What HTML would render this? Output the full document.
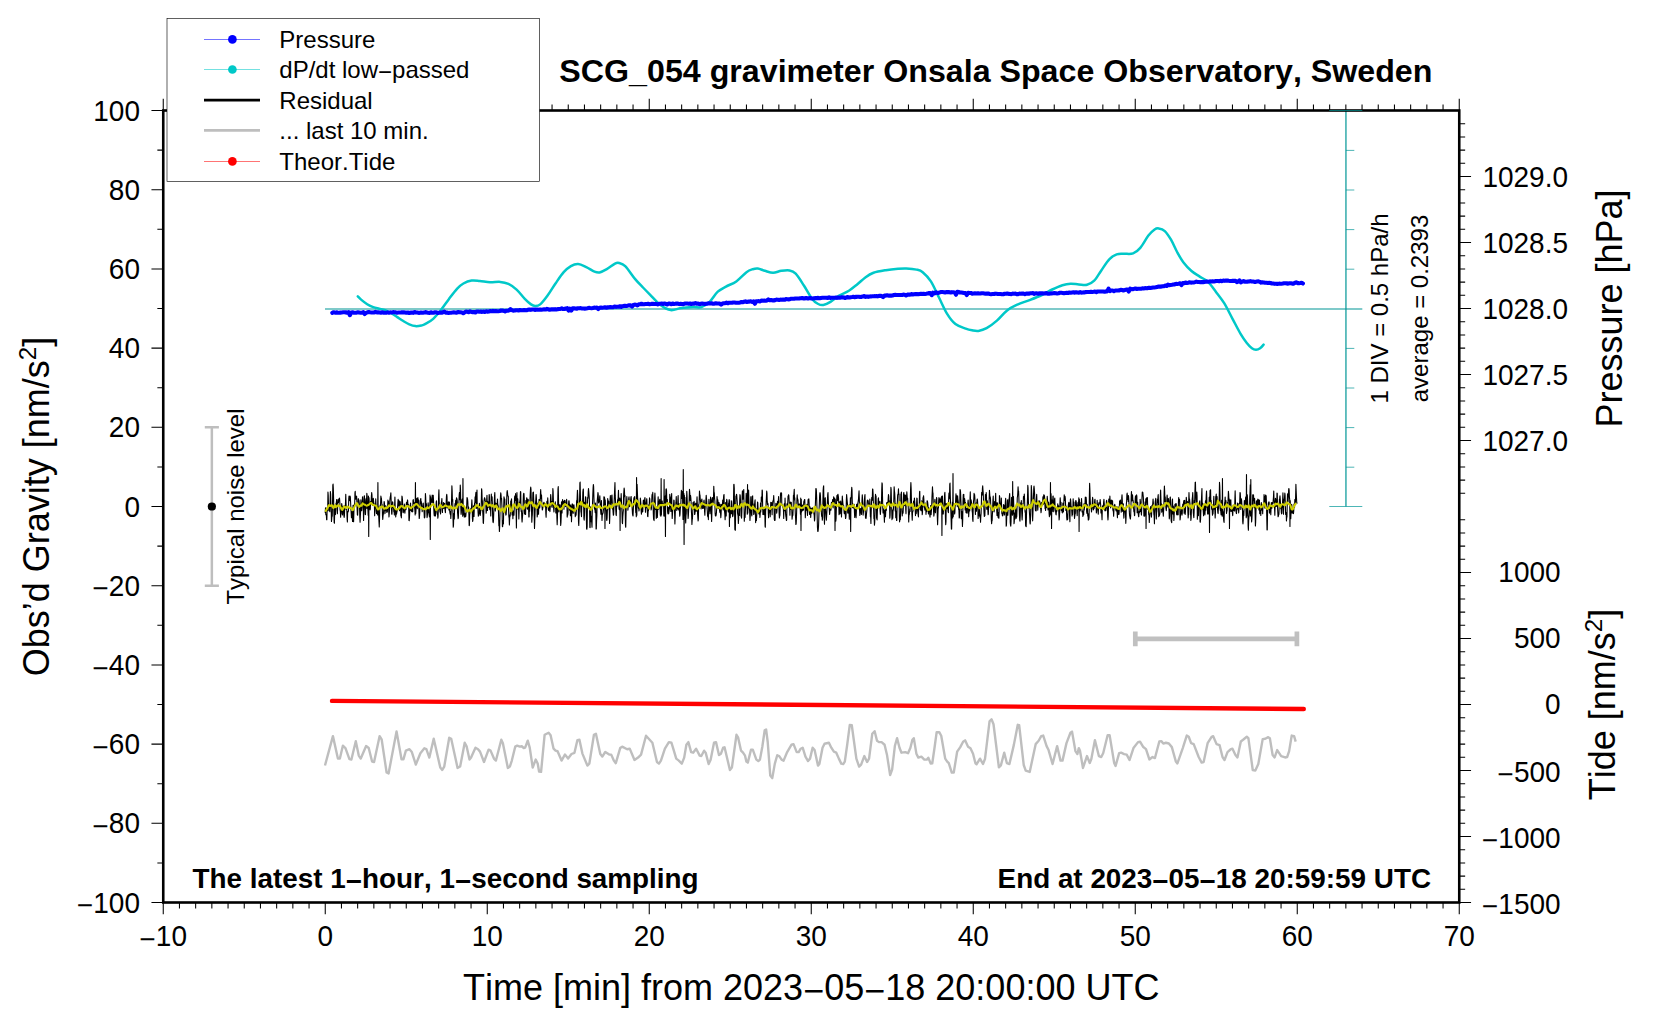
<!DOCTYPE html>
<html lang="en"><head><meta charset="utf-8"><title>SCG_054 gravimeter Onsala Space Observatory, Sweden</title>
<style>
html,body{margin:0;padding:0;background:#fff}
body{width:1660px;height:1020px;overflow:hidden}
svg{display:block}
text{font-family:"Liberation Sans",Arial,Helvetica,sans-serif;fill:#000;font-kerning:none;font-variant-ligatures:none}
.an{font-size:28px}
.lb{font-size:36px}
.lg{font-size:24px}
.bd{font-size:27.85px;font-weight:bold}
.ti{font-size:32.2px;font-weight:bold}
</style></head><body>
<svg width="1660" height="1020" viewBox="0 0 1660 1020">
<rect width="1660" height="1020" fill="#fff"/>
<g fill="none" stroke-linejoin="round">
<polyline stroke="#000" stroke-width="1.1" points="325.25,512.96 325.52,507.86 325.79,514.54 326.06,515.11 326.33,514.6 326.6,519.62 326.87,519.63 327.14,507.63 327.41,507.59 327.68,510.7 327.95,492.05 328.22,494.97 328.49,505.86 328.76,505 329.03,510.65 329.3,510.22 329.57,507.75 329.84,511.75 330.11,501.05 330.38,491.57 330.65,494 330.92,503.74 331.19,508.99 331.46,521.57 331.73,518.89 332,514.44 332.27,516.34 332.54,503.62 332.81,485.18 333.08,484.09 333.35,488.9 333.62,498.94 333.89,513.7 334.16,522.8 334.43,523.2 334.7,512.2 334.97,508.22 335.24,514.02 335.51,514.6 335.78,505.72 336.05,503.09 336.32,503.35 336.59,499.66 336.86,504.84 337.13,509.93 337.4,513.69 337.67,506.75 337.94,499.62 338.21,502.84 338.48,502.74 338.75,499.61 339.02,498.84 339.29,498.1 339.56,498.61 339.83,502.4 340.1,509.98 340.37,511.71 340.64,517.25 340.91,512.89 341.18,514.17 341.45,508.14 341.72,503.66 341.99,505.73 342.26,507.97 342.53,514.95 342.8,511.64 343.07,506.35 343.34,510.61 343.61,508.9 343.88,515.56 344.15,517.46 344.42,515.74 344.69,508.54 344.96,505.19 345.23,509.04 345.5,502.55 345.77,494.38 346.04,503.24 346.31,509.16 346.58,506.8 346.85,510.95 347.12,518.89 347.39,521.96 347.66,511.64 347.93,512.13 348.2,511.81 348.47,510.46 348.74,498.72 349.01,495.98 349.28,496.95 349.55,500.79 349.82,498.85 350.09,496.09 350.36,497.07 350.63,502.98 350.9,508.35 351.17,513.03 351.44,517.63 351.71,517.75 351.98,511.51 352.25,514.71 352.52,521.43 352.79,512.28 353.06,505.27 353.33,513.64 353.6,521.7 353.87,512.85 354.14,504.69 354.41,505.91 354.68,504.5 354.95,492.89 355.22,491.38 355.49,499.27 355.76,498.78 356.03,499.03 356.3,497.77 356.57,496.08 356.84,500.93 357.11,508.52 357.38,514.84 357.65,515.12 357.92,507.46 358.19,498.68 358.46,498.75 358.73,499.84 359,500.53 359.27,502.71 359.54,506.28 359.81,517.3 360.08,522.3 360.35,516.35 360.62,511.19 360.89,499.68 361.16,502.94 361.43,507.67 361.7,510.61 361.97,504.44 362.24,502.98 362.51,496.89 362.78,499.37 363.05,506.97 363.32,509.98 363.59,520.43 363.86,510.77 364.13,496.73 364.4,495.75 364.67,500.23 364.94,505.29 365.21,514.3 365.48,514.64 365.75,504.06 366.02,498.83 366.29,508.5 366.56,499.3 366.83,493.3 367.1,495.39 367.37,505.94 367.64,508.77 367.91,509.38 368.18,515.3 368.45,496 368.72,536.5 368.99,497.5 369.26,502.22 369.53,502.87 369.8,505.02 370.07,509.84 370.34,509.09 370.61,501.51 370.88,503.4 371.15,502.51 371.42,495.8 371.69,492.59 371.96,494.76 372.23,501.07 372.5,505.34 372.77,504.96 373.04,502.69 373.31,498.23 373.58,501.02 373.85,502.71 374.12,503.99 374.39,505.12 374.66,515.8 374.93,508.78 375.2,505.42 375.47,507.92 375.74,498.74 376.01,504.71 376.28,511.24 376.55,513.64 376.82,506.61 377.09,506.72 377.36,508.31 377.63,514.9 377.9,482.5 378.17,513.7 378.44,506.86 378.71,516.19 378.98,521.37 379.25,526.91 379.52,519.3 379.79,508.56 380.06,505.47 380.33,505.89 380.6,502.86 380.87,496.13 381.14,497.75 381.41,498.17 381.68,502.22 381.95,506.33 382.22,504.52 382.49,515.64 382.76,519.44 383.03,515.92 383.3,514.36 383.57,512.07 383.84,507.87 384.11,501.46 384.38,502.64 384.65,506.31 384.92,513.75 385.19,511.32 385.46,505.87 385.73,509.43 386,506.04 386.27,510.56 386.54,510.44 386.81,512.41 387.08,510.94 387.35,511.9 387.62,506.6 387.89,500.14 388.16,503.12 388.43,501.29 388.7,510.76 388.97,516.87 389.24,514.06 389.51,510.2 389.78,501.25 390.05,498.51 390.32,496.56 390.59,495.31 390.86,492.84 391.13,499.66 391.4,506.71 391.67,513.73 391.94,514.34 392.21,508.3 392.48,501.92 392.75,501.95 393.02,507.52 393.29,505.84 393.56,507.96 393.83,511.72 394.1,510.7 394.37,514.86 394.64,504.99 394.91,497.06 395.18,506.59 395.45,511.09 395.72,517.07 395.99,514.23 396.26,510.42 396.53,514.22 396.8,512.39 397.07,511.45 397.34,510.14 397.61,506.7 397.88,502.58 398.15,499.38 398.42,502.12 398.69,505.96 398.96,500.63 399.23,502.36 399.5,510.67 399.77,505.19 400.04,501.45 400.31,502.86 400.58,508.5 400.85,515.5 401.12,516.22 401.39,517.86 401.66,507.57 401.93,496.09 402.2,497 402.47,499.83 402.74,506.78 403.01,512.18 403.28,512.78 403.55,509.66 403.82,510.94 404.09,508.23 404.36,503.93 404.63,511.75 404.9,513.14 405.17,509.18 405.44,506.41 405.71,507.31 405.98,509.68 406.25,504.38 406.52,502.21 406.79,502.43 407.06,505.46 407.33,501.21 407.6,499.93 407.87,503.6 408.14,504.64 408.41,504.51 408.68,505.47 408.95,520.44 409.22,520.77 409.49,517.07 409.76,511.03 410.03,508.43 410.3,504.95 410.57,502.96 410.84,510.23 411.11,510.45 411.38,509.68 411.65,511.79 411.92,507.15 412.19,506.25 412.46,511.38 412.73,511.86 413,500.23 413.27,499.61 413.54,501.8 413.81,503.55 414.08,503.66 414.35,502.7 414.62,507.25 414.89,510.27 415.16,514.9 415.43,482.5 415.7,513.7 415.97,510.35 416.24,502.54 416.51,499.59 416.78,498.34 417.05,506.53 417.32,508.77 417.59,502.59 417.86,497.63 418.13,499.83 418.4,500.54 418.67,500.18 418.94,511.71 419.21,518.56 419.48,516.81 419.75,512.67 420.02,506.57 420.29,501.13 420.56,499.26 420.83,498.48 421.1,503.69 421.37,501.66 421.64,507.7 421.91,507.41 422.18,511.68 422.45,508.9 422.72,506.47 422.99,503.54 423.26,503.16 423.53,507.5 423.8,509.7 424.07,512.09 424.34,517.63 424.61,517.86 424.88,516.62 425.15,505.37 425.42,493.49 425.69,497.01 425.96,505.57 426.23,506.47 426.5,503.84 426.77,511.4 427.04,517.59 427.31,516.05 427.58,513.72 427.85,509.76 428.12,502.79 428.39,505.22 428.66,512.62 428.93,512.94 429.2,515.31 429.47,516.93 429.74,512.27 430.01,494.95 430.28,539.5 430.55,496.6 430.82,498.83 431.09,503.03 431.36,502.24 431.63,502.05 431.9,500.52 432.17,495.01 432.44,499.82 432.71,502.58 432.98,498.58 433.25,495.25 433.52,500.19 433.79,508.93 434.06,513.94 434.33,515.97 434.6,514.03 434.87,508.49 435.14,508.48 435.41,516.07 435.68,511.45 435.95,509.11 436.22,502.02 436.49,500.84 436.76,508.26 437.03,512.31 437.3,514.44 437.57,513.36 437.84,518.3 438.11,515.84 438.38,507.73 438.65,495.02 438.92,489.85 439.19,500.23 439.46,508.96 439.73,509.27 440,511.94 440.27,511.16 440.54,513.93 440.81,510.51 441.08,505.32 441.35,502.18 441.62,501.5 441.89,498.62 442.16,505.48 442.43,512.45 442.7,506.18 442.97,508.22 443.24,508.43 443.51,502.64 443.78,507.91 444.05,508.14 444.32,507.5 444.59,503.2 444.86,507.88 445.13,510.79 445.4,512.65 445.67,505.74 445.94,507.96 446.21,501.39 446.48,496.13 446.75,494.23 447.02,496.91 447.29,507.97 447.56,507.2 447.83,506.43 448.1,504.52 448.37,501.86 448.64,505.84 448.91,509.98 449.18,505.79 449.45,502.01 449.72,511.29 449.99,513.13 450.26,514.34 450.53,511.56 450.8,518.54 451.07,514.09 451.34,507.32 451.61,498.22 451.88,485.88 452.15,490.35 452.42,501.26 452.69,499.4 452.96,515.55 453.23,527.21 453.5,525.37 453.77,515.41 454.04,513.41 454.31,519.05 454.58,509.28 454.85,505.29 455.12,503.28 455.39,504.8 455.66,500.42 455.93,502.24 456.2,506.38 456.47,497.74 456.74,498.76 457.01,498.81 457.28,501.32 457.55,512.4 457.82,515.48 458.09,518.67 458.36,517.77 458.63,510.5 458.9,503.88 459.17,495.36 459.44,492.59 459.71,499.59 459.98,499.62 460.25,484.99 460.52,489.49 460.79,506.09 461.06,514.33 461.33,512.61 461.6,506.69 461.87,500.61 462.14,499.1 462.41,501.9 462.68,516.3 462.95,478.5 463.22,514.9 463.49,507.34 463.76,506.89 464.03,508.42 464.3,517.11 464.57,514.02 464.84,513.37 465.11,516.47 465.38,514.91 465.65,516.85 465.92,514.85 466.19,510.75 466.46,508.57 466.73,505.45 467,497.58 467.27,498.08 467.54,498.91 467.81,501.81 468.08,509.01 468.35,511.25 468.62,507.15 468.89,514.29 469.16,525.59 469.43,525.23 469.7,514.61 469.97,513.17 470.24,511.23 470.51,510.74 470.78,508.79 471.05,508.26 471.32,510.92 471.59,505.22 471.86,499.73 472.13,504.99 472.4,518.06 472.67,521.4 472.94,519.91 473.21,512.87 473.48,505.82 473.75,509.17 474.02,516.48 474.29,508.86 474.56,503.11 474.83,503.05 475.1,496.79 475.37,502.44 475.64,495.14 475.91,492.4 476.18,508.44 476.45,508.34 476.72,496.95 476.99,490.08 477.26,507.98 477.53,505.89 477.8,505.73 478.07,512.28 478.34,516.1 478.61,514.24 478.88,513.36 479.15,512.25 479.42,503.25 479.69,511.81 479.96,514.72 480.23,515.55 480.5,513.25 480.77,510.37 481.04,510.52 481.31,501.97 481.58,488.69 481.85,490.48 482.12,499.07 482.39,501.41 482.66,510.71 482.93,515.1 483.2,522.97 483.47,523.33 483.74,514.79 484.01,501.33 484.28,498.99 484.55,497.67 484.82,498.5 485.09,499.63 485.36,500.91 485.63,501.95 485.9,507.16 486.17,513.27 486.44,510.78 486.71,499.16 486.98,495.37 487.25,503.11 487.52,510.53 487.79,501.54 488.06,503.45 488.33,507.09 488.6,507.24 488.87,504.32 489.14,494.46 489.41,495.89 489.68,509.03 489.95,509.77 490.22,505.45 490.49,506.37 490.76,516.02 491.03,502.05 491.3,494.09 491.57,500.34 491.84,500.34 492.11,496.91 492.38,504.38 492.65,517.07 492.92,521.61 493.19,522.73 493.46,520.81 493.73,512.86 494,508.84 494.27,503.4 494.54,496.05 494.81,492.54 495.08,502.31 495.35,511.06 495.62,503.01 495.89,503.96 496.16,503.43 496.43,507.41 496.7,506.3 496.97,505.99 497.24,503.02 497.51,499.01 497.78,504.72 498.05,504.88 498.32,506.87 498.59,516.15 498.86,525.63 499.13,523.56 499.4,531.51 499.67,526.86 499.94,515.06 500.21,503.95 500.48,496.14 500.75,492.9 501.02,494.56 501.29,498.87 501.56,498.18 501.83,504.33 502.1,509.68 502.37,526.36 502.64,526.7 502.91,521.85 503.18,520.58 503.45,523.83 503.72,506.7 503.99,496.75 504.26,498.23 504.53,502.46 504.8,498.98 505.07,507.08 505.34,507.96 505.61,512.72 505.88,515.1 506.15,514.49 506.42,509.45 506.69,499.52 506.96,492.31 507.23,490.55 507.5,492.51 507.77,495.47 508.04,496.44 508.31,496.38 508.58,509.82 508.85,516.49 509.12,518.28 509.39,524.93 509.66,518.68 509.93,514.72 510.2,516.22 510.47,509.89 510.74,500.94 511.01,502.27 511.28,500.66 511.55,498.89 511.82,509.25 512.09,515 512.36,510.2 512.63,510.68 512.9,518.75 513.17,511.06 513.44,511.78 513.71,514.73 513.98,515.27 514.25,508.19 514.52,498.35 514.79,495.93 515.06,496.78 515.33,500.37 515.6,493.56 515.87,496.83 516.14,513.56 516.41,527.87 516.68,510.14 516.95,492.43 517.22,504.19 517.49,509.03 517.76,498.75 518.03,506.56 518.3,506.2 518.57,508.55 518.84,518.98 519.11,511.01 519.38,502.1 519.65,504.66 519.92,501.01 520.19,499.09 520.46,491.56 520.73,491.87 521,509.05 521.27,511.63 521.54,510.76 521.81,518.48 522.08,522.08 522.35,518.38 522.62,515.04 522.89,511.71 523.16,502.07 523.43,494.86 523.7,493.3 523.97,493.62 524.24,498.28 524.51,514.06 524.78,513.3 525.05,509.34 525.32,510.87 525.59,514.42 525.86,500.58 526.13,506.57 526.4,503.84 526.67,497.76 526.94,498.11 527.21,508.31 527.48,509.12 527.75,502.76 528.02,499.35 528.29,499.77 528.56,508.1 528.83,516.95 529.1,516.87 529.37,505.15 529.64,511.16 529.91,501.89 530.18,494.95 530.45,489.69 530.72,487.06 530.99,489.3 531.26,500.49 531.53,509.97 531.8,522.17 532.07,517.28 532.34,514.59 532.61,504.75 532.88,492.89 533.15,492.18 533.42,492.16 533.69,499.55 533.96,504.71 534.23,516.54 534.5,528.44 534.77,521.81 535.04,512.95 535.31,506.37 535.58,502.88 535.85,499.23 536.12,494.55 536.39,497.9 536.66,503.76 536.93,506.12 537.2,516.9 537.47,514.11 537.74,508.25 538.01,503.03 538.28,510.26 538.55,514.32 538.82,505.5 539.09,499.24 539.36,505.92 539.63,508.05 539.9,506.61 540.17,502.23 540.44,493.5 540.71,489.65 540.98,495.72 541.25,498.35 541.52,494.97 541.79,501.77 542.06,507.18 542.33,510 542.6,509.51 542.87,507.19 543.14,506.69 543.41,504.01 543.68,502.96 543.95,502.26 544.22,505.17 544.49,504.84 544.76,503.32 545.03,504.4 545.3,504.1 545.57,503.97 545.84,513.79 546.11,517.3 546.38,508.76 546.65,505.55 546.92,501.18 547.19,504.93 547.46,506.05 547.73,497.9 548,502.33 548.27,509.18 548.54,510.36 548.81,507.94 549.08,510.32 549.35,506.73 549.62,504.84 549.89,511.59 550.16,508.52 550.43,500.48 550.7,494.64 550.97,498.35 551.24,503.5 551.51,501.24 551.78,506.59 552.05,507.41 552.32,505.5 552.59,503.13 552.86,488.45 553.13,491.61 553.4,501.17 553.67,508.97 553.94,511.86 554.21,506.01 554.48,503.76 554.75,507.45 555.02,505.86 555.29,501.75 555.56,506.34 555.83,512.87 556.1,505.75 556.37,505.19 556.64,508.28 556.91,518.29 557.18,524.62 557.45,517.82 557.72,503.24 557.99,489 558.26,486.65 558.53,500.2 558.8,511.84 559.07,509.15 559.34,504.8 559.61,505.29 559.88,505.75 560.15,504.91 560.42,516.65 560.69,525.38 560.96,522.79 561.23,515.8 561.5,501.87 561.77,508.07 562.04,512.88 562.31,503.29 562.58,499.64 562.85,504.31 563.12,504.53 563.39,501.28 563.66,504.66 563.93,509.31 564.2,503.77 564.47,500.21 564.74,501.46 565.01,500.44 565.28,502.4 565.55,506.58 565.82,505.9 566.09,503.68 566.36,505.15 566.63,499.18 566.9,502.62 567.17,517.09 567.44,515.11 567.71,515.15 567.98,513.52 568.25,508.36 568.52,505.32 568.79,500.97 569.06,500.75 569.33,503.95 569.6,510.22 569.87,507.54 570.14,504.77 570.41,515.79 570.68,505.36 570.95,507.12 571.22,508.9 571.49,521.72 571.76,513.9 572.03,504.31 572.3,503.95 572.57,504.08 572.84,511.48 573.11,513.48 573.38,511.68 573.65,505.95 573.92,504.71 574.19,507.85 574.46,510 574.73,510.62 575,512.13 575.27,516.66 575.54,514.45 575.81,514.04 576.08,515.24 576.35,510.27 576.62,500.45 576.89,503.09 577.16,497.03 577.43,490.22 577.7,495.02 577.97,502.15 578.24,506.91 578.51,522.53 578.78,525.55 579.05,517.71 579.32,510.04 579.59,499.49 579.86,482.87 580.13,482.07 580.4,495.19 580.67,503.4 580.94,511.71 581.21,513.23 581.48,516.58 581.75,506.04 582.02,506.8 582.29,504.07 582.56,504.32 582.83,492.25 583.1,489.78 583.37,489.01 583.64,503.58 583.91,518.36 584.18,520.27 584.45,515.35 584.72,502.24 584.99,505.81 585.26,504.78 585.53,496.81 585.8,497.52 586.07,503.5 586.34,516.33 586.61,529.07 586.88,529.2 587.15,526.64 587.42,504.46 587.69,497.25 587.96,498.57 588.23,491.81 588.5,488.52 588.77,491.22 589.04,494.97 589.31,498.29 589.58,509.6 589.85,527.56 590.12,527.65 590.39,506.75 590.66,508.21 590.93,521.72 591.2,516.01 591.47,517.47 591.74,522.95 592.01,527.2 592.28,510.79 592.55,503.08 592.82,494.48 593.09,487.92 593.36,484.44 593.63,486.59 593.9,496.79 594.17,504.58 594.44,508.89 594.71,505.73 594.98,509.96 595.25,512.63 595.52,503.05 595.79,510.03 596.06,529.04 596.33,528.98 596.6,520.12 596.87,515.69 597.14,502.13 597.41,498.81 597.68,495.86 597.95,492.51 598.22,494.36 598.49,502.85 598.76,502.52 599.03,501.84 599.3,499.76 599.57,498.42 599.84,495.68 600.11,501.6 600.38,508.57 600.65,510.39 600.92,514.18 601.19,506.05 601.46,500.49 601.73,512.55 602,520.51 602.27,515.19 602.54,514.31 602.81,513.29 603.08,513.13 603.35,510.42 603.62,508.07 603.89,496.85 604.16,499.05 604.43,497.06 604.7,498.8 604.97,528.5 605.24,499.9 605.51,505.79 605.78,510 606.05,509.72 606.32,510.16 606.59,519.31 606.86,520.53 607.13,517.6 607.4,509.93 607.67,498.54 607.94,500.67 608.21,503.32 608.48,501.11 608.75,501.24 609.02,509.32 609.29,510.6 609.56,523.39 609.83,516.45 610.1,499.22 610.37,495.62 610.64,502.86 610.91,505.43 611.18,501.87 611.45,502.83 611.72,495.51 611.99,495.04 612.26,501.42 612.53,508.86 612.8,507.16 613.07,512.05 613.34,515.23 613.61,514.68 613.88,509.4 614.15,501.53 614.42,495.26 614.69,488.43 614.96,482.5 615.23,495.65 615.5,500.97 615.77,510.02 616.04,514.69 616.31,515.59 616.58,506.45 616.85,505.71 617.12,506.1 617.39,503.51 617.66,499.6 617.93,502.18 618.2,496.82 618.47,490.24 618.74,500.38 619.01,508.43 619.28,509.75 619.55,504.97 619.82,498.1 620.09,530.5 620.36,499.3 620.63,505.98 620.9,503.05 621.17,493.66 621.44,500.49 621.71,506.37 621.98,512.18 622.25,522.7 622.52,523.73 622.79,517.04 623.06,513.37 623.33,510.14 623.6,495.93 623.87,491.27 624.14,488.02 624.41,490.18 624.68,496.8 624.95,495.39 625.22,509.37 625.49,525.77 625.76,527.31 626.03,514.38 626.3,505.09 626.57,501.78 626.84,496.58 627.11,501.4 627.38,501.78 627.65,504.14 627.92,510.27 628.19,507.02 628.46,503 628.73,498.69 629,496.8 629.27,500.38 629.54,506.81 629.81,502.93 630.08,500.85 630.35,503.14 630.62,500.33 630.89,497.22 631.16,496.46 631.43,500.84 631.7,502.49 631.97,505.45 632.24,509.54 632.51,513.96 632.78,515.27 633.05,516 633.32,509.74 633.59,501.84 633.86,498.35 634.13,497.42 634.4,498.17 634.67,496.57 634.94,502.87 635.21,503.16 635.48,506.6 635.75,512.6 636.02,510.87 636.29,516.65 636.56,477.5 636.83,515.2 637.1,484.2 637.37,491.56 637.64,498 637.91,500.3 638.18,507.07 638.45,508.28 638.72,507.67 638.99,510.93 639.26,508.64 639.53,506.41 639.8,506.67 640.07,508.28 640.34,498.12 640.61,500.17 640.88,503.48 641.15,511.03 641.42,514.11 641.69,510.36 641.96,508.9 642.23,507.06 642.5,511.91 642.77,511.82 643.04,504.69 643.31,500.37 643.58,500.07 643.85,503.16 644.12,504.6 644.39,506.09 644.66,498.91 644.93,497.51 645.2,502.89 645.47,512.3 645.74,506.9 646.01,507.89 646.28,503.79 646.55,500.25 646.82,498.67 647.09,505.68 647.36,511.45 647.63,516.42 647.9,516.62 648.17,510.59 648.44,510.6 648.71,504.88 648.98,505.91 649.25,504.91 649.52,497.82 649.79,499.15 650.06,507.8 650.33,507.73 650.6,505.62 650.87,505.1 651.14,509.92 651.41,508.75 651.68,502.8 651.95,495.8 652.22,494.14 652.49,496.77 652.76,492.42 653.03,500.38 653.3,513.12 653.57,519.33 653.84,519.05 654.11,520.61 654.38,507.91 654.65,497.79 654.92,493.13 655.19,498.76 655.46,509.41 655.73,507.09 656,507.28 656.27,518.33 656.54,515.6 656.81,507.43 657.08,510.04 657.35,517.35 657.62,512.09 657.89,503.27 658.16,496.69 658.43,505.58 658.7,509.18 658.97,504.23 659.24,502.1 659.51,500.47 659.78,499.31 660.05,507.98 660.32,515.22 660.59,511.12 660.86,516.3 661.13,478.5 661.4,514.9 661.67,506.64 661.94,501.51 662.21,501.03 662.48,505.79 662.75,503.75 663.02,504.4 663.29,504.74 663.56,503.78 663.83,515.95 664.1,479.5 664.37,514.6 664.64,516.19 664.91,515.43 665.18,496 665.45,536.5 665.72,497.5 665.99,489.07 666.26,488.84 666.53,490.43 666.8,501.37 667.07,502.23 667.34,499.45 667.61,511.91 667.88,513.46 668.15,513.98 668.42,507.4 668.69,513.68 668.96,511.62 669.23,509.6 669.5,508.15 669.77,494.22 670.04,496.94 670.31,496.75 670.58,506.51 670.85,511.57 671.12,505.91 671.39,499.53 671.66,493.56 671.93,509.97 672.2,518.45 672.47,514.48 672.74,507.66 673.01,505.73 673.28,508.43 673.55,505.39 673.82,500.09 674.09,500.53 674.36,508.48 674.63,514.16 674.9,523.96 675.17,517.18 675.44,507.44 675.71,505.3 675.98,502.16 676.25,496.54 676.52,504.52 676.79,510.57 677.06,506.45 677.33,506.63 677.6,509.05 677.87,499.48 678.14,495.57 678.41,505.41 678.68,510.05 678.95,506.42 679.22,503.82 679.49,512 679.76,516.12 680.03,514.24 680.3,508.92 680.57,506.86 680.84,504.42 681.11,495 681.38,490.39 681.65,498.33 681.92,496.68 682.19,494.51 682.46,491.48 682.73,507.17 683,519.45 683.27,469.5 683.54,517.6 683.81,493.2 684.08,544.5 684.35,495.1 684.62,502.54 684.89,497.33 685.16,508.4 685.43,518.02 685.7,522.89 685.97,516.06 686.24,513.49 686.51,500.9 686.78,491.31 687.05,495.93 687.32,503.51 687.59,504.07 687.86,511.9 688.13,518.53 688.4,515.29 688.67,509.53 688.94,506.86 689.21,498.18 689.48,489.2 689.75,492.64 690.02,496.46 690.29,500.35 690.56,495.6 690.83,497.91 691.1,501.72 691.37,510.61 691.64,515.23 691.91,524.54 692.18,520.07 692.45,518.46 692.72,513.2 692.99,502.51 693.26,509.59 693.53,507.39 693.8,504.29 694.07,501.36 694.34,503.63 694.61,514.43 694.88,514.31 695.15,511.46 695.42,504.66 695.69,503.18 695.96,508.52 696.23,511.19 696.5,510.51 696.77,502.15 697.04,496.74 697.31,504.51 697.58,513.94 697.85,518.28 698.12,520.96 698.39,519.05 698.66,504.52 698.93,504.2 699.2,501.52 699.47,491.01 699.74,494.55 700.01,495.26 700.28,499.62 700.55,500.77 700.82,506.34 701.09,508.89 701.36,504.55 701.63,500.19 701.9,499.1 702.17,503.7 702.44,507.92 702.71,508.49 702.98,506.6 703.25,508.41 703.52,506.59 703.79,501.47 704.06,500.06 704.33,503.34 704.6,511.94 704.87,515.31 705.14,507.94 705.41,505.24 705.68,504.65 705.95,499.13 706.22,495.24 706.49,498.58 706.76,501.39 707.03,508.4 707.3,510.79 707.57,515.75 707.84,516.92 708.11,512.82 708.38,519.6 708.65,508.19 708.92,499.37 709.19,503.18 709.46,510.91 709.73,508.5 710,513.81 710.27,508.31 710.54,497.13 710.81,498.29 711.08,500.5 711.35,513.72 711.62,521.36 711.89,513.13 712.16,500.41 712.43,497.54 712.7,497.96 712.97,502.42 713.24,503.28 713.51,497.68 713.78,486.33 714.05,492.38 714.32,492.66 714.59,498.6 714.86,501.05 715.13,513.31 715.4,515.84 715.67,513.5 715.94,516 716.21,514.74 716.48,511.83 716.75,507.49 717.02,496.6 717.29,499.15 717.56,508.02 717.83,499.77 718.1,504.15 718.37,508.24 718.64,507.47 718.91,502.34 719.18,503.25 719.45,509.2 719.72,511.36 719.99,512.73 720.26,504.42 720.53,513.22 720.8,517.77 721.07,514.6 721.34,507.85 721.61,504.25 721.88,507.65 722.15,507.99 722.42,506.09 722.69,499.94 722.96,504.86 723.23,509.96 723.5,497.81 723.77,495.17 724.04,494.61 724.31,506.86 724.58,511.81 724.85,514.12 725.12,519.66 725.39,513.62 725.66,502.57 725.93,506.44 726.2,515.89 726.47,502.21 726.74,499.34 727.01,500.69 727.28,505.07 727.55,506.57 727.82,508.01 728.09,510.63 728.36,512.03 728.63,503.03 728.9,502.38 729.17,499.5 729.44,526.5 729.71,500.5 729.98,512.78 730.25,517.69 730.52,510.58 730.79,507.31 731.06,511.56 731.33,513.78 731.6,500.9 731.87,504.57 732.14,510.02 732.41,514.52 732.68,516.61 732.95,515.73 733.22,514.21 733.49,502.6 733.76,484.45 734.03,484.36 734.3,488.64 734.57,511.43 734.84,529.26 735.11,530.2 735.38,530.2 735.65,508.28 735.92,496.13 736.19,496.41 736.46,494.23 736.73,494.76 737,498.79 737.27,502.24 737.54,513.01 737.81,514.54 738.08,515.85 738.35,523.54 738.62,519.37 738.89,507.86 739.16,508.44 739.43,515.5 739.7,499.82 739.97,494.52 740.24,495.6 740.51,501.04 740.78,505.73 741.05,516.09 741.32,516.78 741.59,518.27 741.86,511.64 742.13,496.79 742.4,490.91 742.67,497.17 742.94,499.29 743.21,494.23 743.48,492.43 743.75,489.63 744.02,503.05 744.29,521.17 744.56,516.53 744.83,516.05 745.1,517.39 745.37,510.32 745.64,506.23 745.91,502.49 746.18,493.37 746.45,496.68 746.72,500.95 746.99,502.18 747.26,514.2 747.53,484.5 747.8,513.1 748.07,500.05 748.34,491.61 748.61,490.13 748.88,499.11 749.15,508.25 749.42,509.06 749.69,512.56 749.96,520.52 750.23,516.48 750.5,510.34 750.77,497.39 751.04,496.47 751.31,509.25 751.58,514.71 751.85,515.93 752.12,506.65 752.39,497.31 752.66,495.74 752.93,506.95 753.2,503.88 753.47,508.65 753.74,514.48 754.01,513.83 754.28,511.39 754.55,504.72 754.82,501.94 755.09,499.74 755.36,511.4 755.63,522.6 755.9,519.62 756.17,515.15 756.44,520.35 756.71,515.38 756.98,508.21 757.25,510.23 757.52,501.94 757.79,502.52 758.06,508.3 758.33,509.4 758.6,512.07 758.87,513.84 759.14,513.52 759.41,511.76 759.68,513.28 759.95,517.43 760.22,513.87 760.49,503.05 760.76,512.05 761.03,508.27 761.3,497.1 761.57,497.27 761.84,501.21 762.11,489.93 762.38,490.97 762.65,506.56 762.92,514.41 763.19,508.5 763.46,510.04 763.73,512.61 764,514.65 764.27,513.06 764.54,508.09 764.81,509.83 765.08,526.32 765.35,527.27 765.62,511 765.89,508.94 766.16,501.78 766.43,496.98 766.7,490.97 766.97,493.15 767.24,501.42 767.51,504.56 767.78,503.16 768.05,504.07 768.32,513.25 768.59,517.74 768.86,510.63 769.13,508.74 769.4,511.23 769.67,512.79 769.94,509.76 770.21,516.76 770.48,510.47 770.75,502.25 771.02,508.94 771.29,505.13 771.56,502.58 771.83,507.43 772.1,514.82 772.37,505.13 772.64,502.75 772.91,500.87 773.18,500.5 773.45,499.57 773.72,495.5 773.99,501.23 774.26,518.97 774.53,520.37 774.8,518.99 775.07,520.36 775.34,506.64 775.61,507.24 775.88,503.33 776.15,503.64 776.42,508.48 776.69,513.21 776.96,510.83 777.23,505.62 777.5,501.4 777.77,503.62 778.04,504.67 778.31,501.53 778.58,496.54 778.85,503.32 779.12,513.46 779.39,518.07 779.66,516.13 779.93,515.04 780.2,507.24 780.47,494.41 780.74,492.76 781.01,495.32 781.28,493.31 781.55,492.88 781.82,505.14 782.09,504.71 782.36,505.68 782.63,506.09 782.9,507.1 783.17,508 783.44,509.76 783.71,518.36 783.98,508.46 784.25,503.92 784.52,510.61 784.79,507.86 785.06,498.17 785.33,508.48 785.6,513.9 785.87,516.32 786.14,517.58 786.41,520.56 786.68,520.06 786.95,503.92 787.22,508 787.49,506.56 787.76,502.67 788.03,496.07 788.3,495.74 788.57,494.74 788.84,495.51 789.11,500.02 789.38,504.92 789.65,507.6 789.92,515.18 790.19,506.14 790.46,501.99 790.73,505.74 791,509.5 791.27,502.25 791.54,507.06 791.81,510.3 792.08,519.12 792.35,516.43 792.62,515.76 792.89,515.29 793.16,507.82 793.43,495.28 793.7,496.39 793.97,492.79 794.24,489.28 794.51,500 794.78,497.79 795.05,506.01 795.32,513.59 795.59,518.02 795.86,524.38 796.13,524.3 796.4,519.21 796.67,510.23 796.94,499.12 797.21,494.92 797.48,499.44 797.75,499.05 798.02,500.45 798.29,504.81 798.56,506.24 798.83,507.6 799.1,503.93 799.37,505.04 799.64,504.68 799.91,504.08 800.18,507 800.45,514.27 800.72,498.1 800.99,530.5 801.26,499.3 801.53,512.09 801.8,510.02 802.07,509.52 802.34,505.02 802.61,505.98 802.88,510.74 803.15,509.2 803.42,510.07 803.69,503.26 803.96,500.91 804.23,502.23 804.5,499.45 804.77,499.54 805.04,507.43 805.31,517.67 805.58,512.08 805.85,506.96 806.12,505.91 806.39,510.26 806.66,505.29 806.93,504.39 807.2,508.11 807.47,515.38 807.74,511.5 808.01,500.59 808.28,499.19 808.55,501.53 808.82,498.76 809.09,502.71 809.36,510.5 809.63,514.4 809.9,506.79 810.17,507.6 810.44,510.74 810.71,517.38 810.98,513.18 811.25,508.18 811.52,509.85 811.79,513.12 812.06,512.77 812.33,507.83 812.6,508.16 812.87,508.7 813.14,509.07 813.41,511.01 813.68,512.24 813.95,513.82 814.22,515.33 814.49,521 814.76,519.23 815.03,511.68 815.3,506.65 815.57,498.7 815.84,488.76 816.11,488.55 816.38,490.66 816.65,497.47 816.92,506.82 817.19,517.52 817.46,527.42 817.73,531.26 818,531.47 818.27,529.62 818.54,525.96 818.81,518.49 819.08,509.29 819.35,503.7 819.62,495.95 819.89,492.85 820.16,492.75 820.43,495.65 820.7,502.92 820.97,509.04 821.24,509.99 821.51,514.91 821.78,516.59 822.05,515.89 822.32,520.14 822.59,517.57 822.86,502.71 823.13,490.49 823.4,487.04 823.67,485.74 823.94,507.19 824.21,517.65 824.48,524.12 824.75,514.78 825.02,498.12 825.29,497.76 825.56,509.22 825.83,512.28 826.1,516.55 826.37,520.32 826.64,516.01 826.91,511.27 827.18,505.49 827.45,499.96 827.72,494.51 827.99,492.54 828.26,500.11 828.53,505 828.8,505.43 829.07,505.52 829.34,510.14 829.61,514.42 829.88,511.38 830.15,507.01 830.42,509.63 830.69,506.91 830.96,510.25 831.23,504.39 831.5,502.36 831.77,505.33 832.04,506.29 832.31,504.24 832.58,499.67 832.85,506 833.12,507.98 833.39,501.45 833.66,496.84 833.93,499.73 834.2,501.58 834.47,500.77 834.74,498.1 835.01,530.5 835.28,499.3 835.55,511.88 835.82,521.22 836.09,518.32 836.36,508.32 836.63,501.28 836.9,495.45 837.17,498.78 837.44,500.73 837.71,494.84 837.98,494.24 838.25,495.87 838.52,497.89 838.79,504.68 839.06,514.63 839.33,512.16 839.6,501.79 839.87,506.87 840.14,513.75 840.41,506.75 840.68,500.99 840.95,503.53 841.22,509.93 841.49,516.99 841.76,509.37 842.03,502.77 842.3,496.16 842.57,499.86 842.84,502.83 843.11,505.22 843.38,505.22 843.65,505.38 843.92,509.49 844.19,513.25 844.46,513.62 844.73,509.39 845,510.88 845.27,514.1 845.54,518.53 845.81,517.73 846.08,514.73 846.35,500.1 846.62,494.67 846.89,497.81 847.16,500.98 847.43,503.65 847.7,512.9 847.97,513.14 848.24,506.35 848.51,510.84 848.78,510.19 849.05,513.26 849.32,519.24 849.59,512.95 849.86,504.41 850.13,506.54 850.4,497.75 850.67,531.5 850.94,499 851.21,497.64 851.48,491.23 851.75,487.3 852.02,489.81 852.29,502.22 852.56,507.6 852.83,503.77 853.1,506.23 853.37,507.19 853.64,508.07 853.91,506.76 854.18,504.35 854.45,512.32 854.72,517.45 854.99,513.38 855.26,509.24 855.53,509.62 855.8,512.11 856.07,517.75 856.34,512.38 856.61,504.18 856.88,507.23 857.15,508.61 857.42,503.87 857.69,506.02 857.96,502.49 858.23,501.09 858.5,499 858.77,494.5 859.04,490.68 859.31,497.99 859.58,510.65 859.85,515.52 860.12,513.85 860.39,511.62 860.66,508.44 860.93,508.81 861.2,510.29 861.47,514.35 861.74,507.84 862.01,499.92 862.28,494.7 862.55,498.97 862.82,507.52 863.09,515.08 863.36,513.02 863.63,511.12 863.9,509.05 864.17,504.37 864.44,500.02 864.71,496.29 864.98,494.58 865.25,510.37 865.52,517.91 865.79,514.76 866.06,518.42 866.33,515.73 866.6,512.56 866.87,510.47 867.14,502.37 867.41,500.06 867.68,501.49 867.95,500.37 868.22,501.03 868.49,505.45 868.76,503.9 869.03,504.49 869.3,506.43 869.57,505.55 869.84,499.02 870.11,507.26 870.38,516.65 870.65,516.63 870.92,523.43 871.19,513.3 871.46,502.95 871.73,497.62 872,500.55 872.27,500.06 872.54,489.11 872.81,489.07 873.08,493.33 873.35,502.15 873.62,508.14 873.89,518.45 874.16,518.13 874.43,525.2 874.7,522.81 874.97,514.29 875.24,497.92 875.51,494.24 875.78,498.44 876.05,495.79 876.32,505.23 876.59,518.01 876.86,518.76 877.13,519.86 877.4,511.16 877.67,506.34 877.94,506.15 878.21,498.81 878.48,497.87 878.75,505.02 879.02,503.39 879.29,505.89 879.56,505.95 879.83,501.33 880.1,511.13 880.37,514.42 880.64,511.01 880.91,504.87 881.18,502.88 881.45,504.24 881.72,490.29 881.99,482.87 882.26,483.83 882.53,497.59 882.8,508.67 883.07,513.01 883.34,508.87 883.61,509.29 883.88,510.8 884.15,516.31 884.42,522.29 884.69,514.22 884.96,509.92 885.23,512.82 885.5,516.63 885.77,510.64 886.04,508.92 886.31,510.51 886.58,502.74 886.85,502.72 887.12,502.73 887.39,502.32 887.66,505.27 887.93,503.99 888.2,498.45 888.47,494.55 888.74,496.12 889.01,502.41 889.28,500.63 889.55,504.18 889.82,518.27 890.09,515.19 890.36,507.33 890.63,499.23 890.9,487.36 891.17,489.57 891.44,500.65 891.71,509.33 891.98,519.71 892.25,517.45 892.52,510.05 892.79,518.3 893.06,510.67 893.33,510.09 893.6,506.76 893.87,497.84 894.14,486.73 894.41,490.84 894.68,492.73 894.95,498.12 895.22,510.93 895.49,503.48 895.76,517.64 896.03,517.36 896.3,511.39 896.57,520.5 896.84,520.37 897.11,504.3 897.38,501.67 897.65,495.35 897.92,494.24 898.19,494.01 898.46,488.72 898.73,494.41 899,494.01 899.27,511.8 899.54,521.83 899.81,520.29 900.08,516.2 900.35,519.36 900.62,510.29 900.89,493.91 901.16,493.42 901.43,492.12 901.7,499.56 901.97,511.47 902.24,515.86 902.51,511.62 902.78,510.98 903.05,513.11 903.32,507.8 903.59,493.61 903.86,492.45 904.13,499.69 904.4,505.66 904.67,503.17 904.94,494.9 905.21,501.2 905.48,495.25 905.75,509.97 906.02,513.65 906.29,496.23 906.56,496.85 906.83,491.72 907.1,495.57 907.37,499.72 907.64,498 907.91,503.89 908.18,505.44 908.45,513.01 908.72,521.87 908.99,514.34 909.26,514.78 909.53,511.93 909.8,508.75 910.07,511.45 910.34,498.73 910.61,488.16 910.88,482.54 911.15,488 911.42,499.39 911.69,509.82 911.96,514.8 912.23,520.32 912.5,512.84 912.77,511.5 913.04,510.92 913.31,505.72 913.58,501.05 913.85,503.61 914.12,507.51 914.39,497.93 914.66,501.06 914.93,504.38 915.2,510.06 915.47,515.59 915.74,512.15 916.01,513.69 916.28,513.59 916.55,505.25 916.82,498.17 917.09,498.46 917.36,504.21 917.63,511 917.9,512.76 918.17,515.19 918.44,516.96 918.71,505.9 918.98,505.46 919.25,506.67 919.52,492.26 919.79,491.25 920.06,507.32 920.33,509.87 920.6,509.16 920.87,505.85 921.14,510.74 921.41,504.78 921.68,500.86 921.95,502.76 922.22,514.73 922.49,512.77 922.76,504.58 923.03,497.52 923.3,497.5 923.57,495.7 923.84,499.09 924.11,506.98 924.38,507.46 924.65,508.47 924.92,510.13 925.19,509.93 925.46,502.99 925.73,506.69 926,514.35 926.27,507.07 926.54,510.26 926.81,511.69 927.08,500.81 927.35,501.01 927.62,502.08 927.89,504.4 928.16,508.51 928.43,513.99 928.7,507.68 928.97,510.31 929.24,509.55 929.51,510.23 929.78,515.36 930.05,517.24 930.32,510.43 930.59,505.59 930.86,513.13 931.13,514.75 931.4,510.85 931.67,507.51 931.94,497.68 932.21,492.46 932.48,486.85 932.75,492.09 933.02,493.29 933.29,505.86 933.56,511.34 933.83,516.08 934.1,514.3 934.37,510.31 934.64,502.82 934.91,499.3 935.18,507.29 935.45,512.77 935.72,507.23 935.99,505.07 936.26,503.9 936.53,497.62 936.8,498.15 937.07,508.87 937.34,517.65 937.61,524.71 937.88,516.4 938.15,507.76 938.42,508.15 938.69,500.65 938.96,497.63 939.23,498.18 939.5,500.09 939.77,502.65 940.04,499.5 940.31,499.18 940.58,503.33 940.85,503.97 941.12,497.88 941.39,497.34 941.66,496.35 941.93,535.5 942.2,497.8 942.47,495.94 942.74,506.96 943.01,514.01 943.28,514.01 943.55,508.61 943.82,509.43 944.09,503.73 944.36,501.19 944.63,493.93 944.9,492.38 945.17,501.11 945.44,517.77 945.71,524.76 945.98,521.58 946.25,503.49 946.52,507.35 946.79,508.58 947.06,504.73 947.33,503.72 947.6,508.26 947.87,509.46 948.14,511.85 948.41,512.67 948.68,497.89 948.95,493.14 949.22,499 949.49,496.87 949.76,484.07 950.03,483.1 950.3,495.19 950.57,503.03 950.84,510.91 951.11,518.86 951.38,529.09 951.65,529.07 951.92,515.07 952.19,507.92 952.46,502.12 952.73,518.05 953,473.5 953.27,516.4 953.54,503.68 953.81,505.96 954.08,509 954.35,505.63 954.62,514.06 954.89,512.2 955.16,505.33 955.43,505.75 955.7,498.64 955.97,493.79 956.24,498.8 956.51,502.88 956.78,495.87 957.05,502.12 957.32,506.69 957.59,495.9 957.86,499.02 958.13,500.5 958.4,502.86 958.67,509.46 958.94,509.88 959.21,518 959.48,517.39 959.75,505.51 960.02,489.66 960.29,489.89 960.56,491.99 960.83,499.25 961.1,505.02 961.37,518.67 961.64,515.68 961.91,511.66 962.18,518.33 962.45,526.47 962.72,519.74 962.99,502 963.26,494.5 963.53,497.46 963.8,494.19 964.07,504.16 964.34,500.58 964.61,498.59 964.88,500.8 965.15,509.97 965.42,502.3 965.69,504.77 965.96,512.47 966.23,512.75 966.5,509.74 966.77,508.48 967.04,513.3 967.31,512.23 967.58,505.97 967.85,503.28 968.12,500.16 968.39,503.3 968.66,516.72 968.93,512.14 969.2,506.92 969.47,508.81 969.74,510.97 970.01,498.62 970.28,491.91 970.55,501.73 970.82,505.97 971.09,499.71 971.36,501.66 971.63,504.11 971.9,506.63 972.17,511.16 972.44,512.95 972.71,519.69 972.98,521.53 973.25,505.46 973.52,501.37 973.79,499.21 974.06,493.35 974.33,496.86 974.6,494.61 974.87,498.06 975.14,508.4 975.41,514.49 975.68,507.36 975.95,503.37 976.22,502.97 976.49,511.23 976.76,505.28 977.03,499.67 977.3,499.09 977.57,500.93 977.84,506.77 978.11,518.45 978.38,513.84 978.65,513.87 978.92,515.78 979.19,508.49 979.46,509.65 979.73,516.09 980,517.44 980.27,515.26 980.54,522.28 980.81,516.4 981.08,513.72 981.35,503.99 981.62,492.59 981.89,493.02 982.16,495.32 982.43,488.37 982.7,485.89 982.97,490.1 983.24,492.79 983.51,501.71 983.78,507.03 984.05,513.27 984.32,516.49 984.59,516.03 984.86,515.66 985.13,506.87 985.4,494.49 985.67,496.79 985.94,499.8 986.21,492.61 986.48,495.99 986.75,509.31 987.02,509.16 987.29,500.74 987.56,505.6 987.83,510.16 988.1,514.7 988.37,513.96 988.64,505.76 988.91,507.37 989.18,499.22 989.45,490.26 989.72,494.06 989.99,498.63 990.26,496.87 990.53,499.65 990.8,506.78 991.07,510.64 991.34,519.93 991.61,523.74 991.88,520.84 992.15,520.56 992.42,513.68 992.69,506.14 992.96,499.85 993.23,495.98 993.5,506.1 993.77,510.09 994.04,511.9 994.31,510.51 994.58,501.45 994.85,507.18 995.12,507.3 995.39,500.95 995.66,493.33 995.93,503.45 996.2,507.51 996.47,502.86 996.74,510.74 997.01,515.43 997.28,503.04 997.55,502.78 997.82,515.2 998.09,517.33 998.36,512.77 998.63,515.71 998.9,518.35 999.17,511.04 999.44,495.63 999.71,496.85 999.98,506.78 1000.25,505.54 1000.52,504.06 1000.79,506.21 1001.06,503.09 1001.33,497.95 1001.6,508.3 1001.87,513.72 1002.14,513.09 1002.41,515.61 1002.68,515.84 1002.95,515.02 1003.22,512.58 1003.49,504.62 1003.76,507.34 1004.03,505 1004.3,513.5 1004.57,515.08 1004.84,508.77 1005.11,506.72 1005.38,501.82 1005.65,498.38 1005.92,501.34 1006.19,526.21 1006.46,525.11 1006.73,516.28 1007,513.93 1007.27,507.13 1007.54,499.92 1007.81,515.3 1008.08,510.18 1008.35,508.85 1008.62,505.38 1008.89,499.08 1009.16,499.65 1009.43,495.69 1009.7,493.44 1009.97,502.92 1010.24,522.35 1010.51,524.84 1010.78,526.24 1011.05,521.72 1011.32,510.05 1011.59,497.35 1011.86,505.39 1012.13,506.75 1012.4,515.25 1012.67,481.5 1012.94,514 1013.21,499.2 1013.48,496.48 1013.75,505.45 1014.02,523.68 1014.29,521.84 1014.56,512.95 1014.83,519.52 1015.1,516.53 1015.37,515.65 1015.64,507.69 1015.91,510.62 1016.18,518.45 1016.45,516.23 1016.72,516.99 1016.99,510.18 1017.26,497.75 1017.53,496.44 1017.8,492.58 1018.07,486.9 1018.34,490.82 1018.61,491.13 1018.88,497.96 1019.15,505.89 1019.42,514.23 1019.69,519.94 1019.96,521.22 1020.23,515.88 1020.5,504.63 1020.77,502.55 1021.04,505.22 1021.31,500.55 1021.58,508.44 1021.85,514.83 1022.12,520.04 1022.39,515.35 1022.66,504.45 1022.93,503.51 1023.2,504.25 1023.47,496.47 1023.74,498.75 1024.01,498.23 1024.28,494.09 1024.55,498.59 1024.82,508.06 1025.09,512.26 1025.36,510.5 1025.63,525.64 1025.9,526.37 1026.17,526.66 1026.44,517.56 1026.71,506.38 1026.98,506.42 1027.25,505.17 1027.52,497.26 1027.79,485.31 1028.06,487.88 1028.33,498.84 1028.6,507.18 1028.87,508.45 1029.14,507.93 1029.41,512.31 1029.68,516.47 1029.95,522.7 1030.22,524.06 1030.49,518.52 1030.76,508.89 1031.03,501.63 1031.3,485.57 1031.57,489.85 1031.84,495.13 1032.11,501.3 1032.38,515.82 1032.65,520.84 1032.92,513.86 1033.19,505.01 1033.46,497.59 1033.73,488.67 1034,486.05 1034.27,488.64 1034.54,492.52 1034.81,499.24 1035.08,503.42 1035.35,510.1 1035.62,510.72 1035.89,507.71 1036.16,510.84 1036.43,498.46 1036.7,494.42 1036.97,502.58 1037.24,502.18 1037.51,505.3 1037.78,510.22 1038.05,506.09 1038.32,502.23 1038.59,500.99 1038.86,505.06 1039.13,505.32 1039.4,505.34 1039.67,500.84 1039.94,502.5 1040.21,502.86 1040.48,508.21 1040.75,509.2 1041.02,512.8 1041.29,510.65 1041.56,502.49 1041.83,504.14 1042.1,503.6 1042.37,501.46 1042.64,502.78 1042.91,496.72 1043.18,504.75 1043.45,502.42 1043.72,494.68 1043.99,503.41 1044.26,495 1044.53,496.24 1044.8,501.5 1045.07,508.61 1045.34,508.65 1045.61,510.55 1045.88,503.55 1046.15,505.38 1046.42,507.64 1046.69,505.83 1046.96,501.43 1047.23,496.38 1047.5,499.57 1047.77,506.53 1048.04,509.88 1048.31,508.8 1048.58,501.94 1048.85,504.26 1049.12,513.73 1049.39,516.7 1049.66,510.63 1049.93,507.51 1050.2,514.9 1050.47,482.5 1050.74,513.7 1051.01,493.44 1051.28,498.8 1051.55,528.5 1051.82,499.9 1052.09,508.77 1052.36,511.47 1052.63,503.98 1052.9,496.17 1053.17,496.05 1053.44,505.03 1053.71,511.75 1053.98,505.83 1054.25,503.7 1054.52,499.4 1054.79,498.14 1055.06,505.69 1055.33,510.29 1055.6,511.41 1055.87,514.32 1056.14,514.87 1056.41,510.6 1056.68,511.61 1056.95,510.15 1057.22,509.07 1057.49,507.55 1057.76,503.73 1058.03,506.94 1058.3,506.98 1058.57,505.8 1058.84,512.86 1059.11,519.98 1059.38,517.18 1059.65,512.35 1059.92,503.55 1060.19,497.69 1060.46,502.33 1060.73,504.12 1061,502.34 1061.27,510.47 1061.54,510.61 1061.81,509.54 1062.08,511.99 1062.35,512.89 1062.62,508.82 1062.89,502.94 1063.16,506.82 1063.43,511.94 1063.7,507.49 1063.97,499.87 1064.24,494.89 1064.51,498.47 1064.78,500.4 1065.05,496.33 1065.32,498.63 1065.59,505.53 1065.86,510.51 1066.13,507.25 1066.4,506.26 1066.67,516.98 1066.94,520 1067.21,514.41 1067.48,519.78 1067.75,518.78 1068.02,510.31 1068.29,505.68 1068.56,503.22 1068.83,502.35 1069.1,502.86 1069.37,508.36 1069.64,517.4 1069.91,521.59 1070.18,504.75 1070.45,498.81 1070.72,500.36 1070.99,505.07 1071.26,508.78 1071.53,506.86 1071.8,511.69 1072.07,515.97 1072.34,509.99 1072.61,514.46 1072.88,508.17 1073.15,498.69 1073.42,505.09 1073.69,504.07 1073.96,501.97 1074.23,509.72 1074.5,518.36 1074.77,516.35 1075.04,514.26 1075.31,513.64 1075.58,502.18 1075.85,500.45 1076.12,500.97 1076.39,503.35 1076.66,506.21 1076.93,512.16 1077.2,515.59 1077.47,508.75 1077.74,504.89 1078.01,502.24 1078.28,509 1078.55,504.32 1078.82,497.75 1079.09,531.5 1079.36,499 1079.63,506.81 1079.9,502.2 1080.17,510.96 1080.44,508.94 1080.71,507.52 1080.98,508.36 1081.25,504.69 1081.52,498.54 1081.79,503.86 1082.06,512.02 1082.33,511.54 1082.6,510.93 1082.87,516.45 1083.14,515.26 1083.41,514.5 1083.68,514.71 1083.95,503.81 1084.22,510.1 1084.49,507.25 1084.76,505.57 1085.03,503.86 1085.3,497.07 1085.57,500.82 1085.84,504.22 1086.11,497.26 1086.38,500.58 1086.65,511.77 1086.92,513.4 1087.19,504.32 1087.46,508.78 1087.73,515.98 1088,513.61 1088.27,519.98 1088.54,519.99 1088.81,519.45 1089.08,517.44 1089.35,496.92 1089.62,483.37 1089.89,489.57 1090.16,498.31 1090.43,504.6 1090.7,507.67 1090.97,508.12 1091.24,508.74 1091.51,511.84 1091.78,509.42 1092.05,506.62 1092.32,501.41 1092.59,497.42 1092.86,499.23 1093.13,507.89 1093.4,509.88 1093.67,506.41 1093.94,508.8 1094.21,508.25 1094.48,503.54 1094.75,499.93 1095.02,499.27 1095.29,506.39 1095.56,503.27 1095.83,506.35 1096.1,507.34 1096.37,512.97 1096.64,510.6 1096.91,506.76 1097.18,500.28 1097.45,506.26 1097.72,504.31 1097.99,511.5 1098.26,514.25 1098.53,507.34 1098.8,502.82 1099.07,504.71 1099.34,502.81 1099.61,503.14 1099.88,502.85 1100.15,499.47 1100.42,502.62 1100.69,505.1 1100.96,512.94 1101.23,510.93 1101.5,507.43 1101.77,514.95 1102.04,519.76 1102.31,509.07 1102.58,505.7 1102.85,507.9 1103.12,506.79 1103.39,505.91 1103.66,501.87 1103.93,499.41 1104.2,502.86 1104.47,507.3 1104.74,510.16 1105.01,510.86 1105.28,509.87 1105.55,506.27 1105.82,510.59 1106.09,508.21 1106.36,501.9 1106.63,500.36 1106.9,502.85 1107.17,506.7 1107.44,509.09 1107.71,516.72 1107.98,519.87 1108.25,515.77 1108.52,505.2 1108.79,499.05 1109.06,503.99 1109.33,506.11 1109.6,502.28 1109.87,495.96 1110.14,501.05 1110.41,505.81 1110.68,507.92 1110.95,503.33 1111.22,499.97 1111.49,504.27 1111.76,506.24 1112.03,500.41 1112.3,500.68 1112.57,500.71 1112.84,509.85 1113.11,510.76 1113.38,511.52 1113.65,516.26 1113.92,510.37 1114.19,505.5 1114.46,505.72 1114.73,504.36 1115,505.93 1115.27,508.76 1115.54,506.22 1115.81,509.86 1116.08,510.92 1116.35,510.32 1116.62,506.69 1116.89,509.36 1117.16,513.36 1117.43,517.7 1117.7,510.38 1117.97,506.88 1118.24,514.44 1118.51,508.98 1118.78,509.19 1119.05,514.12 1119.32,508.3 1119.59,501.04 1119.86,501.72 1120.13,500.94 1120.4,499.94 1120.67,504.29 1120.94,505.19 1121.21,512.15 1121.48,509.82 1121.75,498.14 1122.02,494.85 1122.29,500.13 1122.56,510.96 1122.83,511.42 1123.1,509.68 1123.37,503.81 1123.64,515.05 1123.91,518.08 1124.18,512.45 1124.45,508.01 1124.72,511.27 1124.99,511.66 1125.26,510.28 1125.53,514.91 1125.8,523.33 1126.07,517.8 1126.34,504.1 1126.61,501.72 1126.88,494.64 1127.15,493.03 1127.42,496.1 1127.69,499.51 1127.96,498.13 1128.23,501.35 1128.5,495.47 1128.77,499.22 1129.04,504.43 1129.31,511.41 1129.58,515.48 1129.85,516.91 1130.12,518.25 1130.39,519.07 1130.66,516.15 1130.93,506.67 1131.2,496.83 1131.47,491.64 1131.74,496.4 1132.01,500.86 1132.28,497.8 1132.55,494.91 1132.82,499.89 1133.09,500.08 1133.36,503.35 1133.63,508.47 1133.9,511.74 1134.17,510.04 1134.44,515.58 1134.71,515.2 1134.98,505.76 1135.25,498.38 1135.52,495.79 1135.79,497.01 1136.06,502.92 1136.33,502.25 1136.6,494.84 1136.87,496.3 1137.14,512.76 1137.41,502.94 1137.68,502.31 1137.95,507.94 1138.22,513.54 1138.49,516 1138.76,516.77 1139.03,511.51 1139.3,512.81 1139.57,511.77 1139.84,511.03 1140.11,499.25 1140.38,501.56 1140.65,511.36 1140.92,509.27 1141.19,512.7 1141.46,515.1 1141.73,507.81 1142,497.65 1142.27,492.09 1142.54,494.4 1142.81,492.4 1143.08,494.79 1143.35,497.66 1143.62,503.34 1143.89,516.03 1144.16,512.34 1144.43,505.9 1144.7,516.15 1144.97,512.94 1145.24,501.92 1145.51,509.45 1145.78,498.8 1146.05,528.5 1146.32,499.9 1146.59,497.77 1146.86,498.52 1147.13,502.3 1147.4,497.5 1147.67,506.52 1147.94,509.47 1148.21,508.19 1148.48,509.38 1148.75,514.78 1149.02,515.16 1149.29,522.37 1149.56,517.83 1149.83,515.46 1150.1,512.79 1150.37,507.97 1150.64,506.61 1150.91,509.98 1151.18,511.51 1151.45,517.08 1151.72,511.91 1151.99,505.29 1152.26,508.88 1152.53,507.33 1152.8,502.59 1153.07,498.95 1153.34,502.49 1153.61,509.28 1153.88,514.37 1154.15,515.97 1154.42,523.65 1154.69,512.61 1154.96,507.91 1155.23,502.05 1155.5,500.09 1155.77,498.41 1156.04,510.27 1156.31,518.91 1156.58,513.25 1156.85,511.09 1157.12,505.66 1157.39,499.16 1157.66,502.53 1157.93,497.16 1158.2,494.6 1158.47,501.26 1158.74,516.66 1159.01,514.99 1159.28,515.98 1159.55,514.98 1159.82,513.76 1160.09,506.83 1160.36,495.55 1160.63,490.13 1160.9,498.06 1161.17,507.25 1161.44,503.89 1161.71,512.28 1161.98,510.68 1162.25,505.04 1162.52,509.52 1162.79,508.55 1163.06,513.12 1163.33,516.23 1163.6,510.74 1163.87,505.91 1164.14,492.4 1164.41,486.14 1164.68,491.53 1164.95,501.59 1165.22,496.7 1165.49,502.14 1165.76,506.28 1166.03,508.9 1166.3,510.76 1166.57,506.2 1166.84,499.17 1167.11,495.16 1167.38,498.9 1167.65,503.41 1167.92,506.88 1168.19,504.93 1168.46,498.5 1168.73,502.07 1169,509.61 1169.27,518.84 1169.54,516.8 1169.81,503.68 1170.08,497.73 1170.35,497.01 1170.62,503.66 1170.89,513.03 1171.16,520.54 1171.43,521.79 1171.7,522.68 1171.97,509.94 1172.24,500.33 1172.51,498.95 1172.78,512.85 1173.05,514.13 1173.32,505.99 1173.59,509.81 1173.86,520.54 1174.13,516.19 1174.4,509.65 1174.67,508.18 1174.94,504.32 1175.21,504.44 1175.48,506.11 1175.75,503.73 1176.02,503.61 1176.29,504.11 1176.56,514.23 1176.83,514.44 1177.1,514.96 1177.37,512.55 1177.64,507.4 1177.91,508.45 1178.18,514.69 1178.45,501.63 1178.72,497.52 1178.99,499.44 1179.26,500.97 1179.53,499.57 1179.8,507.23 1180.07,519.9 1180.34,517.63 1180.61,513.37 1180.88,512.53 1181.15,510.41 1181.42,507.21 1181.69,513.45 1181.96,515.15 1182.23,513.7 1182.5,507.38 1182.77,504.42 1183.04,507.48 1183.31,503.92 1183.58,502.45 1183.85,500.64 1184.12,513.19 1184.39,506.84 1184.66,500.18 1184.93,507.93 1185.2,514.56 1185.47,511.19 1185.74,503.9 1186.01,503.46 1186.28,497.25 1186.55,499.93 1186.82,505.08 1187.09,505.46 1187.36,501.52 1187.63,502.29 1187.9,512.6 1188.17,517.92 1188.44,514.43 1188.71,500.93 1188.98,492.52 1189.25,499.23 1189.52,498.85 1189.79,501.75 1190.06,504.1 1190.33,514.48 1190.6,513.36 1190.87,520.42 1191.14,518.5 1191.41,510.46 1191.68,507.94 1191.95,503.92 1192.22,498.76 1192.49,496.46 1192.76,492.59 1193.03,500.11 1193.3,512.71 1193.57,515.53 1193.84,517.71 1194.11,512.33 1194.38,500.22 1194.65,502.83 1194.92,491.43 1195.19,482.25 1195.46,482.18 1195.73,495.23 1196,500.87 1196.27,503.38 1196.54,504.02 1196.81,491.99 1197.08,495.95 1197.35,519.14 1197.62,513.63 1197.89,505.43 1198.16,515.63 1198.43,515.66 1198.7,507.36 1198.97,504.49 1199.24,505.19 1199.51,502.07 1199.78,500.81 1200.05,521.88 1200.32,522.22 1200.59,519.1 1200.86,511.11 1201.13,507.79 1201.4,501 1201.67,494.6 1201.94,488.54 1202.21,506.91 1202.48,509.06 1202.75,503.35 1203.02,508.34 1203.29,511.54 1203.56,515.72 1203.83,505.85 1204.1,504.67 1204.37,505.26 1204.64,513.35 1204.91,514.95 1205.18,510.15 1205.45,500.76 1205.72,510.17 1205.99,502.09 1206.26,494.98 1206.53,491.04 1206.8,498.97 1207.07,507.39 1207.34,507.22 1207.61,513.87 1207.88,504.73 1208.15,508.33 1208.42,513.95 1208.69,511.62 1208.96,507.95 1209.23,497.4 1209.5,532.5 1209.77,498.7 1210.04,490.63 1210.31,490.54 1210.58,489.75 1210.85,502.98 1211.12,500.21 1211.39,504.96 1211.66,509.1 1211.93,504.63 1212.2,510.24 1212.47,515.14 1212.74,513.58 1213.01,513.69 1213.28,509.19 1213.55,502.32 1213.82,496.34 1214.09,503.73 1214.36,509.14 1214.63,504.99 1214.9,511.29 1215.17,517.98 1215.44,512.89 1215.71,496.63 1215.98,496.36 1216.25,494.05 1216.52,506.61 1216.79,507.48 1217.06,496.65 1217.33,504.37 1217.6,509.87 1217.87,512.63 1218.14,513.58 1218.41,506.55 1218.68,508.92 1218.95,501.83 1219.22,498.31 1219.49,482.39 1219.76,485.96 1220.03,495.55 1220.3,510.36 1220.57,508.57 1220.84,512.16 1221.11,514.86 1221.38,510.36 1221.65,500.29 1221.92,500.82 1222.19,516.3 1222.46,478.5 1222.73,514.9 1223,510.81 1223.27,513.04 1223.54,518.37 1223.81,521.17 1224.08,522.42 1224.35,510.22 1224.62,502.9 1224.89,501.94 1225.16,497.07 1225.43,504.08 1225.7,503.63 1225.97,500.66 1226.24,507.16 1226.51,513.43 1226.78,511.54 1227.05,510.67 1227.32,503.68 1227.59,502.39 1227.86,504.27 1228.13,498.42 1228.4,491.27 1228.67,493.99 1228.94,500.4 1229.21,498.8 1229.48,528.5 1229.75,499.9 1230.02,508.07 1230.29,511.51 1230.56,503.96 1230.83,499.76 1231.1,509.94 1231.37,508.68 1231.64,511.43 1231.91,508.88 1232.18,507.04 1232.45,513.41 1232.72,515.66 1232.99,509.98 1233.26,506.38 1233.53,509.67 1233.8,510.37 1234.07,505.16 1234.34,510.55 1234.61,511.08 1234.88,499.36 1235.15,490.82 1235.42,500.31 1235.69,505.63 1235.96,510.61 1236.23,513.03 1236.5,513.61 1236.77,509.13 1237.04,509.93 1237.31,507.84 1237.58,503.04 1237.85,508.06 1238.12,503.66 1238.39,507.87 1238.66,512.86 1238.93,510.11 1239.2,507.57 1239.47,504.21 1239.74,501.17 1240.01,492.6 1240.28,492.93 1240.55,498.51 1240.82,509.44 1241.09,506.92 1241.36,498.71 1241.63,500.31 1241.9,505.1 1242.17,505.77 1242.44,507.12 1242.71,521.65 1242.98,523.97 1243.25,519.91 1243.52,510.68 1243.79,515.56 1244.06,509.57 1244.33,500.5 1244.6,504.36 1244.87,505.42 1245.14,505.38 1245.41,500.22 1245.68,497.16 1245.95,509.75 1246.22,517.7 1246.49,474.5 1246.76,516.1 1247.03,495.88 1247.3,494.86 1247.57,499.39 1247.84,509.43 1248.11,526.09 1248.38,530.24 1248.65,520.98 1248.92,517.06 1249.19,515.58 1249.46,512 1249.73,497.39 1250,493.21 1250.27,484.7 1250.54,515.95 1250.81,479.5 1251.08,514.6 1251.35,514.93 1251.62,522.02 1251.89,519.03 1252.16,513.03 1252.43,506.64 1252.7,494.83 1252.97,500.24 1253.24,496.47 1253.51,494.75 1253.78,501.17 1254.05,507.62 1254.32,500.82 1254.59,498.23 1254.86,504.63 1255.13,513.66 1255.4,526.06 1255.67,521.95 1255.94,512.13 1256.21,504.9 1256.48,500.75 1256.75,503.45 1257.02,504.64 1257.29,507.81 1257.56,500.54 1257.83,499 1258.1,501.76 1258.37,499.49 1258.64,505.81 1258.91,509.86 1259.18,505.37 1259.45,499.94 1259.72,513.72 1259.99,511.89 1260.26,510.61 1260.53,511.98 1260.8,515.48 1261.07,505.25 1261.34,502.55 1261.61,508.16 1261.88,510.14 1262.15,506.69 1262.42,506.42 1262.69,513.75 1262.96,504.66 1263.23,505.34 1263.5,503.8 1263.77,505.05 1264.04,494.61 1264.31,496.43 1264.58,496.37 1264.85,508.07 1265.12,508.25 1265.39,496.77 1265.66,494.94 1265.93,496.61 1266.2,495.69 1266.47,503.16 1266.74,516.22 1267.01,529.98 1267.28,530.02 1267.55,512.61 1267.82,506.82 1268.09,509.33 1268.36,502.76 1268.63,502.85 1268.9,501.78 1269.17,502.41 1269.44,513.09 1269.71,507.69 1269.98,505.13 1270.25,508.66 1270.52,510.79 1270.79,514.79 1271.06,508.4 1271.33,502.45 1271.6,503.16 1271.87,508.28 1272.14,503.51 1272.41,502.8 1272.68,502.47 1272.95,503.41 1273.22,500.26 1273.49,496.67 1273.76,491.13 1274.03,500.55 1274.3,501.23 1274.57,508.63 1274.84,515.22 1275.11,505.94 1275.38,498.41 1275.65,498.78 1275.92,501.34 1276.19,506.39 1276.46,505.66 1276.73,506.24 1277,493.09 1277.27,493.34 1277.54,507.45 1277.81,512.35 1278.08,516.7 1278.35,516.29 1278.62,514.77 1278.89,514.38 1279.16,507.23 1279.43,499.09 1279.7,498.41 1279.97,495.91 1280.24,498.99 1280.51,503.45 1280.78,508.63 1281.05,505.72 1281.32,512.49 1281.59,513.9 1281.86,512.99 1282.13,506.53 1282.4,507.45 1282.67,498.99 1282.94,492.76 1283.21,503.38 1283.48,514.18 1283.75,504.14 1284.02,501.14 1284.29,499.44 1284.56,497.12 1284.83,493.17 1285.1,495.38 1285.37,505.51 1285.64,514.37 1285.91,512.58 1286.18,512.59 1286.45,520.95 1286.72,517.45 1286.99,516.72 1287.26,502.19 1287.53,493.77 1287.8,497.38 1288.07,501.6 1288.34,495.87 1288.61,490.18 1288.88,488.46 1289.15,490.14 1289.42,497.28 1289.69,499.5 1289.96,526.5 1290.23,500.5 1290.5,511.91 1290.77,518.77 1291.04,512.81 1291.31,509.37 1291.58,504.38 1291.85,504.92 1292.12,513.07 1292.39,512.1 1292.66,509.44 1292.93,513.17 1293.2,511.85 1293.47,513.6 1293.74,510.79 1294.01,504.07 1294.28,507.21 1294.55,507.34 1294.82,499.65 1295.09,503.59 1295.36,503.72 1295.63,496.24 1295.9,484.25 1296.17,491.03 1296.44,497.09 1296.71,502.18 1296.98,503.74"/>
<polyline stroke="#cdcd00" stroke-width="2.05" points="325.25,511.73 326.06,510.33 326.87,509.13 327.68,507.97 328.49,505.77 329.3,505.03 330.11,506.06 330.92,505.63 331.73,505.1 332.54,506.6 333.35,508.06 334.16,506.25 334.97,505.09 335.78,507.25 336.59,506.7 337.4,505.63 338.21,505.27 339.02,506.11 339.83,505.71 340.64,507.3 341.45,508.59 342.26,509.95 343.07,508.41 343.88,506.41 344.69,506.68 345.5,507.71 346.31,507.98 347.12,506.68 347.93,506.51 348.74,507.2 349.55,507.87 350.36,507.77 351.17,507.9 351.98,509.47 352.79,510.11 353.6,508.9 354.41,506.74 355.22,505.28 356.03,504.06 356.84,502.99 357.65,504.42 358.46,506.46 359.27,506.93 360.08,505.92 360.89,505.29 361.7,505.72 362.51,503.37 363.32,503.95 364.13,504.43 364.94,504.63 365.75,505.23 366.56,505.77 367.37,505.49 368.18,505 368.99,504.59 369.8,503.69 370.61,503.1 371.42,503.12 372.23,504.37 373.04,505.08 373.85,504.9 374.66,505.49 375.47,505.55 376.28,505.94 377.09,508.23 377.9,509.55 378.71,509.33 379.52,507.52 380.33,507.28 381.14,507.46 381.95,506.27 382.76,506.9 383.57,508.1 384.38,508.75 385.19,508.49 386,507.46 386.81,508.1 387.62,507.64 388.43,506.25 389.24,505.22 390.05,506.08 390.86,506.77 391.67,505.95 392.48,505.8 393.29,506.06 394.1,506.7 394.91,507.89 395.72,509.25 396.53,509.41 397.34,509.59 398.15,508.75 398.96,508.66 399.77,507.64 400.58,506.38 401.39,506.22 402.2,505.97 403.01,507.34 403.82,507.47 404.63,508.45 405.44,507.61 406.25,505.96 407.06,506.2 407.87,506.5 408.68,506.35 409.49,506.97 410.3,507.89 411.11,508.34 411.92,506.95 412.73,506.75 413.54,506.22 414.35,505.54 415.16,504.67 415.97,504.11 416.78,503.97 417.59,504.95 418.4,505.87 419.21,506.74 420.02,507.24 420.83,507.98 421.64,507.74 422.45,508.58 423.26,509.3 424.07,508.99 424.88,508.82 425.69,509.45 426.5,508.46 427.31,507.2 428.12,508.24 428.93,507.82 429.74,507.2 430.55,506.7 431.36,505.46 432.17,504.7 432.98,504.02 433.79,504.81 434.6,505.67 435.41,507.88 436.22,510.22 437.03,508.9 437.84,508.62 438.65,507.95 439.46,506.18 440.27,504.8 441.08,505.69 441.89,507.35 442.7,507.09 443.51,506.67 444.32,506.33 445.13,505.39 445.94,505.7 446.75,506.1 447.56,506.39 448.37,506.6 449.18,507.88 449.99,506.2 450.8,506.29 451.61,508.01 452.42,508.62 453.23,507.6 454.04,507.39 454.85,508.45 455.66,508.39 456.47,508.1 457.28,505.96 458.09,504.37 458.9,504.2 459.71,505.22 460.52,504.77 461.33,503.89 462.14,504.84 462.95,506.1 463.76,505.84 464.57,507.06 465.38,508.78 466.19,510.31 467,511.48 467.81,511.48 468.62,510.14 469.43,509.78 470.24,510.53 471.05,511.63 471.86,510.2 472.67,509.06 473.48,508.11 474.29,508.47 475.1,507.01 475.91,506.01 476.72,505.2 477.53,504.99 478.34,506.53 479.15,507.2 479.96,506.93 480.77,507.51 481.58,509.28 482.39,508.86 483.2,506.9 484.01,505.82 484.82,504.54 485.63,502.82 486.44,502.9 487.25,504.28 488.06,505.88 488.87,505.49 489.68,504.76 490.49,504.64 491.3,506.1 492.11,506.55 492.92,505.13 493.73,505.72 494.54,507.33 495.35,506.68 496.16,505.31 496.97,507.06 497.78,509.39 498.59,508.98 499.4,508.3 500.21,509.67 501.02,511.15 501.83,509.42 502.64,508.2 503.45,510.31 504.26,512.19 505.07,509.55 505.88,506.42 506.69,506.14 507.5,506.51 508.31,505.55 509.12,505.09 509.93,508.15 510.74,511.36 511.55,511.19 512.36,508.24 513.17,504.94 513.98,504.24 514.79,505.39 515.6,506.66 516.41,507.42 517.22,508.1 518.03,506.95 518.84,503.66 519.65,504.42 520.46,506.6 521.27,506.94 522.08,506.86 522.89,508.86 523.7,508.65 524.51,505.93 525.32,504.21 526.13,504.87 526.94,506.62 527.75,505.82 528.56,502.95 529.37,502.01 530.18,503.08 530.99,503.1 531.8,502.06 532.61,504.18 533.42,506.2 534.23,505.06 535.04,505.21 535.85,507.33 536.66,508.02 537.47,506.05 538.28,505.05 539.09,503.47 539.9,501.86 540.71,502.84 541.52,504.1 542.33,504.92 543.14,505.81 543.95,506.34 544.76,504.91 545.57,503.94 546.38,504.83 547.19,505.92 548,506.64 548.81,504.76 549.62,504.52 550.43,504.78 551.24,503.17 552.05,503.21 552.86,503.1 553.67,504.1 554.48,504.51 555.29,506.91 556.1,506.11 556.91,506.17 557.72,506.64 558.53,508.33 559.34,509.34 560.15,508.72 560.96,509.36 561.77,508.33 562.58,507.62 563.39,505.44 564.2,504.57 565.01,503.94 565.82,504.92 566.63,505.03 567.44,505.82 568.25,506.53 569.06,507.37 569.87,508.31 570.68,508.25 571.49,509.32 572.3,509.22 573.11,509.95 573.92,510.69 574.73,510.77 575.54,508.95 576.35,508.58 577.16,508.71 577.97,505.14 578.78,503.31 579.59,503.8 580.4,504.42 581.21,501.82 582.02,503.09 582.83,505.85 583.64,504.88 584.45,505.27 585.26,507.03 586.07,506.92 586.88,504.32 587.69,505.56 588.5,507.8 589.31,507.8 590.12,509.52 590.93,509.97 591.74,508.88 592.55,506.17 593.36,504.93 594.17,505.45 594.98,506.03 595.79,506.9 596.6,507.3 597.41,506.99 598.22,507.25 599.03,506 599.84,506.21 600.65,507.67 601.46,508.24 602.27,508.03 603.08,507.59 603.89,506.86 604.7,506.44 605.51,506.36 606.32,506.7 607.13,507.88 607.94,507.91 608.75,506.97 609.56,505.24 610.37,505.78 611.18,507.72 611.99,507.46 612.8,505.38 613.61,504.12 614.42,504.78 615.23,504.73 616.04,503.86 616.85,503.76 617.66,504.66 618.47,503.7 619.28,501.84 620.09,503.15 620.9,506.53 621.71,506.84 622.52,505.26 623.33,506.23 624.14,508.38 624.95,507.15 625.76,506.67 626.57,507.32 627.38,506.33 628.19,502.44 629,500.94 629.81,502.45 630.62,504.7 631.43,506.41 632.24,505.24 633.05,504.05 633.86,504.42 634.67,503.66 635.48,500.65 636.29,500.08 637.1,500.97 637.91,502.04 638.72,502.61 639.53,506.4 640.34,507.97 641.15,506.47 641.96,504.85 642.77,505.15 643.58,506.92 644.39,506.75 645.2,505.5 646.01,505.66 646.82,505.53 647.63,506.23 648.44,507.19 649.25,508.6 650.06,506.71 650.87,503.67 651.68,503.42 652.49,503.44 653.3,502.91 654.11,503.78 654.92,505.9 655.73,507.68 656.54,507.07 657.35,508.07 658.16,508.1 658.97,506.16 659.78,505.24 660.59,505.14 661.4,505.06 662.21,505.35 663.02,504.99 663.83,505.33 664.64,504.46 665.45,504.51 666.26,504.75 667.07,505.17 667.88,502.94 668.69,503.85 669.5,503.86 670.31,504.86 671.12,505.1 671.93,505.43 672.74,508.62 673.55,509.18 674.36,508.29 675.17,506.44 675.98,505.32 676.79,506.16 677.6,505.85 678.41,506.86 679.22,506.09 680.03,504.76 680.84,505.47 681.65,504.78 682.46,505.18 683.27,504.6 684.08,505.7 684.89,505.22 685.7,506.6 686.51,507.4 687.32,508.14 688.13,505.71 688.94,503.27 689.75,504.42 690.56,505.01 691.37,505.43 692.18,507.17 692.99,508.62 693.8,508.04 694.61,506.47 695.42,506.37 696.23,508.8 697.04,509.4 697.85,508.29 698.66,507.86 699.47,507.74 700.28,506.11 701.09,504.04 701.9,502.96 702.71,503.61 703.52,503.98 704.33,504.37 705.14,504.8 705.95,505.28 706.76,505.47 707.57,504.83 708.38,505.14 709.19,505.57 710,505.66 710.81,504.53 711.62,504.66 712.43,503.48 713.24,504.42 714.05,504.61 714.86,504.9 715.67,505.34 716.48,507 717.29,507.78 718.1,507.15 718.91,507.3 719.72,508.05 720.53,508.57 721.34,508.44 722.15,507 722.96,506.58 723.77,505.12 724.58,505.01 725.39,506.23 726.2,508.81 727.01,509.26 727.82,508.46 728.63,507.65 729.44,507.61 730.25,507.85 731.06,509.24 731.87,507.97 732.68,508.18 733.49,509.31 734.3,507.48 735.11,505.03 735.92,505 736.73,508.43 737.54,507.32 738.35,506.13 739.16,507.63 739.97,507.35 740.78,504.99 741.59,503.78 742.4,505.58 743.21,506.66 744.02,503.81 744.83,503.14 745.64,504.36 746.45,505.25 747.26,504.43 748.07,504.85 748.88,505.27 749.69,506.8 750.5,507.53 751.31,508.73 752.12,508.37 752.93,506.36 753.74,508.04 754.55,508.56 755.36,509.43 756.17,509.72 756.98,510.82 757.79,512.38 758.6,511.41 759.41,509.65 760.22,508.2 761.03,508.12 761.84,508.06 762.65,507.46 763.46,508.43 764.27,508.03 765.08,507.25 765.89,506.42 766.7,507.19 767.51,507.61 768.32,507.44 769.13,508.13 769.94,508.93 770.75,508.59 771.56,507.07 772.37,506.96 773.18,507.33 773.99,507.21 774.8,507.55 775.61,507.82 776.42,507.87 777.23,506.6 778.04,506.47 778.85,505.12 779.66,503.44 780.47,503.63 781.28,504.99 782.09,505.16 782.9,505.41 783.71,507.28 784.52,508.88 785.33,508.83 786.14,507.47 786.95,506.63 787.76,507.17 788.57,505.73 789.38,504.53 790.19,505.52 791,508.05 791.81,508.48 792.62,507.61 793.43,507.86 794.24,508.48 795.05,505.73 795.86,504.55 796.67,506.27 797.48,507.4 798.29,507.02 799.1,506.24 799.91,507.36 800.72,507.88 801.53,508.11 802.34,507.8 803.15,507.66 803.96,506.37 804.77,505.68 805.58,505.83 806.39,505.5 807.2,506.32 808.01,507.08 808.82,509.24 809.63,510.47 810.44,510.05 811.25,510.25 812.06,510.53 812.87,511.81 813.68,509.99 814.49,506.8 815.3,506.81 816.11,509.17 816.92,510.33 817.73,509.52 818.54,510.19 819.35,511.41 820.16,510.62 820.97,507.78 821.78,505.34 822.59,507.23 823.4,507.13 824.21,508.04 825.02,507.77 825.83,507.49 826.64,506.3 827.45,505.18 828.26,505.98 829.07,506.16 829.88,506.99 830.69,507.67 831.5,506.36 832.31,503.84 833.12,503.09 833.93,504.32 834.74,504.78 835.55,505.02 836.36,505.13 837.17,506.21 837.98,505.23 838.79,503.93 839.6,505.61 840.41,506.18 841.22,506.51 842.03,506.16 842.84,506.33 843.65,508.31 844.46,508.8 845.27,509.73 846.08,509.88 846.89,508.26 847.7,506.75 848.51,505.62 849.32,505.97 850.13,506 850.94,506.85 851.75,506.29 852.56,505.77 853.37,504.79 854.18,506.46 854.99,507.2 855.8,507.92 856.61,508.48 857.42,508.09 858.23,508.41 859.04,506.84 859.85,505.06 860.66,503.41 861.47,505.16 862.28,505.66 863.09,505.93 863.9,507.9 864.71,509.91 865.52,509.3 866.33,507.63 867.14,506.91 867.95,505.57 868.76,505.56 869.57,505.76 870.38,506.19 871.19,505.8 872,506.45 872.81,507.1 873.62,504.41 874.43,504.87 875.24,507.5 876.05,507.98 876.86,506.32 877.67,505.74 878.48,507.61 879.29,506.83 880.1,504.38 880.91,505.12 881.72,505.04 882.53,505.27 883.34,504.99 884.15,506.14 884.96,508.11 885.77,507.99 886.58,506.43 887.39,504.58 888.2,504.38 889.01,503.21 889.82,504.33 890.63,505.46 891.44,506.2 892.25,504.25 893.06,503.29 893.87,505.22 894.68,505.54 895.49,504.87 896.3,504.58 897.11,506.06 897.92,506.9 898.73,504.72 899.54,501.89 900.35,504.32 901.16,507.59 901.97,506.88 902.78,504.66 903.59,504.23 904.4,503.95 905.21,502.22 906.02,502.25 906.83,504.27 907.64,505.36 908.45,504.18 909.26,503.54 910.07,505.43 910.88,505.98 911.69,504.49 912.5,503.84 913.31,506.75 914.12,509.1 914.93,507.8 915.74,507.57 916.55,508.05 917.36,508.01 918.17,507.04 918.98,506.32 919.79,505.27 920.6,503.89 921.41,502.41 922.22,504.07 923.03,504.9 923.84,504.89 924.65,504.54 925.46,504.01 926.27,506.33 927.08,508.28 927.89,509.94 928.7,509.79 929.51,509.76 930.32,508.65 931.13,507.25 931.94,507.23 932.75,505.47 933.56,504.46 934.37,503.43 935.18,504.51 935.99,505.56 936.8,504.83 937.61,505.51 938.42,505.31 939.23,505.24 940.04,504.09 940.85,503.42 941.66,505.32 942.47,506.51 943.28,507.76 944.09,509.72 944.9,508.39 945.71,506.7 946.52,505.96 947.33,505.85 948.14,503.05 948.95,502.94 949.76,505.02 950.57,505.85 951.38,506.55 952.19,508.45 953,509.69 953.81,506.77 954.62,504.13 955.43,504.22 956.24,503.48 957.05,504.18 957.86,504.27 958.67,504.26 959.48,505.89 960.29,507.83 961.1,507.97 961.91,506.26 962.72,506.91 963.53,507.48 964.34,506.46 965.15,504.43 965.96,504.14 966.77,505.24 967.58,506.73 968.39,507.46 969.2,507.9 970.01,507.71 970.82,508.29 971.63,505.83 972.44,504.06 973.25,505.58 974.06,507.3 974.87,507.15 975.68,504.54 976.49,504.54 977.3,504.94 978.11,505.62 978.92,507.55 979.73,508.1 980.54,507.37 981.35,506.17 982.16,506.11 982.97,504.31 983.78,501.55 984.59,501.61 985.4,503.71 986.21,505.92 987.02,505.53 987.83,504.23 988.64,503.74 989.45,504.57 990.26,506.3 991.07,506.21 991.88,508.35 992.69,510.12 993.5,509.73 994.31,507.39 995.12,506.61 995.93,507.73 996.74,508.14 997.55,506.62 998.36,505.94 999.17,504.88 999.98,506.26 1000.79,508.28 1001.6,509.25 1002.41,510.79 1003.22,510.07 1004.03,510.14 1004.84,510.64 1005.65,510.52 1006.46,511.24 1007.27,509.36 1008.08,508.89 1008.89,508.96 1009.7,508.02 1010.51,507.44 1011.32,507.39 1012.13,509.36 1012.94,508.98 1013.75,507.86 1014.56,508.84 1015.37,507.69 1016.18,505.73 1016.99,503.54 1017.8,504.7 1018.61,505.37 1019.42,504.58 1020.23,506.13 1021.04,507.07 1021.85,506.34 1022.66,505.01 1023.47,506.82 1024.28,508.64 1025.09,507.91 1025.9,506.69 1026.71,507.43 1027.52,507.84 1028.33,507.53 1029.14,505.31 1029.95,504.73 1030.76,508.02 1031.57,506.47 1032.38,502.36 1033.19,500.18 1034,502.42 1034.81,503.06 1035.62,503.23 1036.43,504.04 1037.24,503.67 1038.05,502.09 1038.86,503.38 1039.67,505.98 1040.48,507.03 1041.29,506.9 1042.1,504.81 1042.91,502.68 1043.72,500.72 1044.53,499.91 1045.34,499.56 1046.15,501.53 1046.96,504.51 1047.77,506.7 1048.58,506.73 1049.39,506.37 1050.2,506.44 1051.01,505.55 1051.82,505.39 1052.63,504.36 1053.44,505.65 1054.25,506.14 1055.06,506.5 1055.87,507.34 1056.68,507.56 1057.49,509.36 1058.3,508.53 1059.11,508.11 1059.92,508.24 1060.73,508.22 1061.54,507.79 1062.35,506.87 1063.16,506.85 1063.97,506.77 1064.78,506.6 1065.59,507.45 1066.4,507.39 1067.21,508.08 1068.02,509.51 1068.83,508.75 1069.64,508.07 1070.45,508.2 1071.26,508.66 1072.07,508.3 1072.88,508.58 1073.69,508.05 1074.5,506.94 1075.31,507.47 1076.12,508.27 1076.93,508.63 1077.74,507.32 1078.55,507.92 1079.36,507.31 1080.17,506.95 1080.98,507.97 1081.79,508.26 1082.6,507.97 1083.41,506.24 1084.22,505.3 1085.03,505.12 1085.84,505.45 1086.65,507.36 1087.46,507.24 1088.27,507.1 1089.08,507.77 1089.89,507.93 1090.7,506.27 1091.51,504.99 1092.32,506.24 1093.13,505.39 1093.94,504.36 1094.75,504.42 1095.56,504.47 1096.37,505.26 1097.18,506.39 1097.99,507.51 1098.8,507.87 1099.61,508.04 1100.42,507.92 1101.23,507.7 1102.04,508.02 1102.85,509.1 1103.66,508.87 1104.47,507.33 1105.28,506.32 1106.09,506.11 1106.9,504.45 1107.71,503.04 1108.52,503.63 1109.33,505.52 1110.14,505.82 1110.95,505.25 1111.76,505.99 1112.57,506.66 1113.38,507.11 1114.19,507.61 1115,507.78 1115.81,507.21 1116.62,507.37 1117.43,508.54 1118.24,508.69 1119.05,508.95 1119.86,507.34 1120.67,506.18 1121.48,505.02 1122.29,505.57 1123.1,506.91 1123.91,508.66 1124.72,509.64 1125.53,508.97 1126.34,507.92 1127.15,506.81 1127.96,506.06 1128.77,505.25 1129.58,505.38 1130.39,506.45 1131.2,507.64 1132.01,507.65 1132.82,506.07 1133.63,504.01 1134.44,503.75 1135.25,504.39 1136.06,505.22 1136.87,505.77 1137.68,506.31 1138.49,506.8 1139.3,508.41 1140.11,507.67 1140.92,505.46 1141.73,504.41 1142.54,505.24 1143.35,506.26 1144.16,506.99 1144.97,507.47 1145.78,507.33 1146.59,505.85 1147.4,506.14 1148.21,507.9 1149.02,509.44 1149.83,511.78 1150.64,511.81 1151.45,510.07 1152.26,508.67 1153.07,507.09 1153.88,505.39 1154.69,506.34 1155.5,507.18 1156.31,506.61 1157.12,506.51 1157.93,507.29 1158.74,506.01 1159.55,506.21 1160.36,507.22 1161.17,507.8 1161.98,506.2 1162.79,505.1 1163.6,505.82 1164.41,505.73 1165.22,504.28 1166.03,502.74 1166.84,502.91 1167.65,503.97 1168.46,503.27 1169.27,505.35 1170.08,507.62 1170.89,508.58 1171.7,508.62 1172.51,509.32 1173.32,510.3 1174.13,509.4 1174.94,510.72 1175.75,509.98 1176.56,508.05 1177.37,506.66 1178.18,507.26 1178.99,507.71 1179.8,507.63 1180.61,507.57 1181.42,508.03 1182.23,508.53 1183.04,507.77 1183.85,507.57 1184.66,505.93 1185.47,504.78 1186.28,505.41 1187.09,504.31 1187.9,503.83 1188.71,505.92 1189.52,506.92 1190.33,505.96 1191.14,505.2 1191.95,508.12 1192.76,508.12 1193.57,504.87 1194.38,503.96 1195.19,504.41 1196,504.4 1196.81,503.47 1197.62,503.13 1198.43,505 1199.24,506.14 1200.05,506.76 1200.86,507.99 1201.67,509 1202.48,508.1 1203.29,505.72 1204.1,504.72 1204.91,504.04 1205.72,504.47 1206.53,505.23 1207.34,505.55 1208.15,503.6 1208.96,502.87 1209.77,502.66 1210.58,503.87 1211.39,505.02 1212.2,505.14 1213.01,507.32 1213.82,507 1214.63,506.72 1215.44,506.02 1216.25,506.5 1217.06,504.79 1217.87,500.65 1218.68,502.08 1219.49,503.58 1220.3,503.77 1221.11,504.67 1221.92,507.38 1222.73,507.81 1223.54,506.5 1224.35,506.82 1225.16,507.44 1225.97,506.3 1226.78,504.16 1227.59,505.71 1228.4,506.71 1229.21,506.23 1230.02,506.49 1230.83,508.02 1231.64,508.63 1232.45,507.2 1233.26,505.58 1234.07,505.32 1234.88,505.54 1235.69,505.6 1236.5,506.39 1237.31,507.05 1238.12,506.92 1238.93,506.12 1239.74,505 1240.55,505.26 1241.36,505.67 1242.17,505.9 1242.98,507.22 1243.79,507.54 1244.6,507.9 1245.41,505.52 1246.22,506 1247.03,507.32 1247.84,506.97 1248.65,505.21 1249.46,507.74 1250.27,509.47 1251.08,506.8 1251.89,505.51 1252.7,505.91 1253.51,506.73 1254.32,504.71 1255.13,505.16 1255.94,506.44 1256.75,507.39 1257.56,507.62 1258.37,506.21 1259.18,505.98 1259.99,506.11 1260.8,507.2 1261.61,507.3 1262.42,505.92 1263.23,504.61 1264.04,503.25 1264.85,504.58 1265.66,506.71 1266.47,508.33 1267.28,508.89 1268.09,508.32 1268.9,508.11 1269.71,505.4 1270.52,505.27 1271.33,506.1 1272.14,506.01 1272.95,506.82 1273.76,505.8 1274.57,505.29 1275.38,503.59 1276.19,504.18 1277,504.26 1277.81,503.48 1278.62,504.43 1279.43,506.11 1280.24,506.88 1281.05,504.7 1281.86,504.32 1282.67,504.18 1283.48,504.55 1284.29,504.98 1285.1,505.19 1285.91,503.67 1286.72,502.33 1287.53,502.93 1288.34,504 1289.15,504.12 1289.96,504.67 1290.77,506.31 1291.58,509.19 1292.39,509.49 1293.2,508.63 1294.01,506.29 1294.82,504.78 1295.63,503.71 1296.44,503.32"/>
<polyline stroke="#bebebe" stroke-width="2.4" points="324.97,765.54 332.92,736.12 337.89,758.58 339.88,758.58 342.86,745.66 345.45,748.05 349.42,759.18 351.41,759.58 355.78,741.29 358.77,755.6 360.75,758.58 366.12,746.06 368.7,748.05 372.08,761.57 374.07,761.96 379.64,736.12 381.63,739.3 386.6,772.5 388.58,773.49 396.54,731.35 401.51,759.18 403.49,759.18 405.88,750.63 409.46,749.24 411.84,752.02 415.82,764.55 420.39,753.22 424.37,748.25 426.36,749.04 429.34,757.59 433.71,738.7 440.27,767.53 442.26,769.92 444.25,766.54 449.22,737.71 451.2,738.7 457.57,767.93 460.15,766.54 464.72,742.68 466.71,746.66 469.49,759.58 471.08,757.59 475.46,747.65 478.04,749.24 480.03,751.63 484.01,761.96 488.58,749.64 490.57,750.63 493.95,758.58 495.93,760.57 501.3,739.7 502.89,743.28 507.86,767.93 509.85,766.54 511.84,760.57 515.22,746.66 517.2,745.66 519.79,746.66 521.78,746.26 523.77,748.05 525.16,747.65 527.74,740.69 529.73,747.65 532.71,767.53 535.69,759.58 537.68,763.55 539.07,771.51 541.06,771.9 544.64,734.73 548.61,732.74 550.6,735.33 553.58,748.64 555.57,750.63 557.56,751.23 561.54,760.57 564.92,754.61 568.1,758.58 571.48,754.01 574.46,752.82 577.44,740.1 579.43,739.7 582.41,753.61 587.38,765.54 589.37,763.55 593.94,734.73 595.93,733.73 600.3,754.01 602.29,756.6 605.27,752.02 609.25,754.61 611.23,754.61 613.82,760.57 615.81,763.16 620.18,748.05 622.17,746.66 627.14,749.24 629.72,748.64 634.49,759.98 638.07,757.59 641.05,754.61 646.02,735.72 652.39,742.74 656.96,762.02 658.95,763.61 660.93,760.63 664.91,748.7 668.89,742.14 671.47,742.74 673.86,750.69 676.24,758.64 678.83,760.63 681.81,763.61 684.19,757.65 686.38,744.73 688.37,742.14 691.15,752.08 693.14,752.68 696.12,748.7 699.7,755.66 701.29,756.06 704.07,750.69 705.66,752.68 708.64,764.01 710.63,759.64 714.01,742.74 716,742.14 718.98,755.07 720.97,753.67 723.16,747.71 724.55,747.31 729.92,769.98 731.9,767.59 736.48,734.79 738.07,737.37 741.05,750.69 743.04,752.68 745.02,755.66 746.42,761.63 747.81,762.62 750.99,749.7 752.78,749.7 756.36,759.64 758.34,761.03 759.93,759.64 762.32,746.72 764.7,730.22 766.1,729.42 767.69,741.75 770.27,775.54 772.26,778.13 774.84,763.61 777.23,755.27 779.22,756.06 781.6,759.64 783.59,760.63 787.17,752.08 791.54,744.73 793.53,744.13 796.71,752.08 798.7,752.08 800.69,748.7 802.67,747.71 805.46,756.66 808.04,761.03 810.03,758.64 812.61,747.71 814.6,750.1 817.98,765.6 819.37,764.01 822.55,747.71 824.54,743.73 828.92,742.74 831.3,747.71 833.89,751.69 836.27,752.68 838.86,758.64 841.24,763.61 843.23,764.01 844.82,761.63 847.2,744.73 849.79,724.85 851.78,725.25 853.77,739.76 856.35,758.64 859.13,766.6 861.12,764.61 864.3,756.06 867.08,762.02 869.07,758.64 872.25,733.8 874.64,731.21 877.02,740.75 879.01,742.14 881.6,742.14 884.58,744.73 886.96,754.67 890.14,775.14 892.13,769.58 894.92,745.72 897.1,738.17 899.49,747.71 901.48,752.68 905.45,752.08 908.04,753.28 910.42,747.71 912.41,739.76 913.8,738.17 916.39,753.67 918.37,757.65 921.36,756.66 924.34,759.64 926.72,759.64 928.31,757.65 930.7,763.61 932.29,763.22 934.67,746.72 936.66,732.2 939.25,732.2 941.23,735.78 945.21,758.64 947.2,761.63 948.79,763.22 951.77,772.56 953.76,772.56 957.14,751.69 960.12,747.31 963.1,741.75 965.09,740.36 968.07,746.72 970.46,748.31 973.04,753.67 975.43,763.22 976.62,764.21 980,758.64 982.98,764.01 984.97,759.04 989.54,721.27 991.53,719.28 993.52,724.25 998.89,767.39 1000.87,765.4 1004.25,752.67 1006.84,763.01 1009.42,764.01 1013.8,745.12 1017.77,724.84 1019.16,725.24 1023.73,765 1025.72,770.57 1029.7,771.96 1035.66,744.13 1038.64,740.75 1041.23,736.17 1043.22,735.58 1046.6,746.11 1048.58,750.09 1052.56,764.01 1057.13,746.11 1060.51,760.63 1062.5,760.63 1066.48,743.13 1070.45,732.8 1072.04,731.6 1075.42,751.08 1077.41,754.07 1078.8,748.1 1079.99,750.69 1082.98,767.98 1086.95,756.05 1089.73,763.01 1091.33,759.04 1094.9,740.15 1098.88,756.05 1101.27,757.05 1103.25,753.07 1107.63,735.18 1109.61,735.18 1114.19,763.01 1115.58,765.99 1119.16,753.07 1121.14,752.67 1124.13,754.07 1126.71,754.66 1129.49,760.03 1133.47,748.1 1138.04,742.14 1140.03,741.74 1143.01,746.71 1145.99,749.1 1149.37,759.43 1152.55,757.05 1154.94,758.04 1159.31,741.54 1161.3,741.14 1163.29,743.53 1165.87,742.73 1168.86,743.53 1171.84,747.11 1175.81,761.42 1177.4,763.41 1182.77,748.1 1186.75,735.58 1188.73,736.77 1191.12,743.13 1193.7,744.13 1198.67,757.05 1201.66,762.61 1203.64,762.02 1207.62,743.13 1211.6,736.77 1213.19,736.17 1216.57,744.13 1219.55,745.12 1222.53,757.05 1224.52,760.03 1227.5,752.08 1230.48,749.49 1232.47,748.7 1235.45,755.06 1237.44,757.45 1240.82,741.54 1243.4,739.55 1246.78,736.77 1248.37,738.16 1252.75,769.97 1255.33,770.57 1258.31,764.01 1262.69,739.16 1265.27,738.76 1268.25,737.17 1269.84,738.16 1272.63,755.06 1274.61,757.45 1277.2,750.09 1281.17,756.05 1285.15,757.45 1287.14,757.05 1289.13,751.08 1291.71,735.58 1294.1,736.17 1295.69,741.54"/>
<g fill="none" stroke="#009696">
<path stroke-width="1.2" d="M325 309H1362.3M1345.95 110.5V506.5"/>
</g>
<path stroke="#00c8c8" stroke-width="2.5" stroke-linecap="round" d="M357.8 296.3C358.35 296.85 359.53 298.28 361.1 299.6C362.67 300.92 365.18 302.93 367.2 304.2C369.22 305.47 371.2 306.45 373.2 307.2C375.2 307.95 377.2 308.22 379.2 308.7C381.2 309.18 383.18 309.35 385.2 310.1C387.22 310.85 389.28 312.03 391.3 313.2C393.32 314.37 395.3 315.8 397.3 317.1C399.3 318.4 401.3 319.8 403.3 321C405.3 322.2 407.28 323.45 409.3 324.3C411.32 325.15 413.38 325.9 415.4 326.1C417.42 326.3 419.8 325.82 421.4 325.5C423 325.18 423.03 325.32 425 324.2C426.97 323.08 430.43 321.32 433.2 318.8C435.97 316.28 438.97 312.42 441.6 309.1C444.23 305.78 446.4 302.32 449 298.9C451.6 295.48 454.8 291.17 457.2 288.6C459.6 286.03 461 284.83 463.4 283.5C465.8 282.17 468.87 281.02 471.6 280.6C474.33 280.18 476.73 280.72 479.8 281C482.87 281.28 486.6 282.15 490 282.3C493.4 282.45 497.13 281.63 500.2 281.9C503.27 282.17 505.67 282.62 508.4 283.9C511.13 285.18 513.87 287.1 516.6 289.6C519.33 292.1 522.4 296.43 524.8 298.9C527.2 301.37 529.28 303.22 531 304.4C532.72 305.58 533.57 306 535.1 306C536.63 306 538.15 306.1 540.2 304.4C542.25 302.7 544.85 299.28 547.4 295.8C549.95 292.32 552.78 287.43 555.5 283.5C558.22 279.57 561.13 275.1 563.7 272.2C566.27 269.3 568.5 267.47 570.9 266.1C573.3 264.73 575.53 263.83 578.1 264C580.67 264.17 583.57 265.83 586.3 267.1C589.03 268.37 592.28 270.72 594.5 271.6C596.72 272.48 597.55 272.8 599.6 272.4C601.65 272 604.23 270.67 606.8 269.2C609.37 267.73 612.95 264.63 615 263.6C617.05 262.57 617.4 262.58 619.1 263C620.8 263.42 622.48 263.37 625.2 266.1C627.92 268.83 632.43 275.83 635.4 279.4C638.37 282.97 640.53 284.93 643 287.5C645.47 290.07 647.28 291.88 650.2 294.8C653.12 297.72 657.08 302.45 660.5 305C663.92 307.55 667.28 309.58 670.7 310.1C674.12 310.62 677.23 308.6 681 308.1C684.77 307.6 689.9 307.27 693.3 307.1C696.7 306.93 698.68 307.97 701.4 307.1C704.12 306.23 706.87 304.47 709.6 301.9C712.33 299.33 715.07 294.25 717.8 291.7C720.53 289.15 722.92 288.32 726 286.6C729.08 284.88 732.88 283.8 736.3 281.4C739.72 279 743.77 274.23 746.5 272.2C749.23 270.17 750.82 269.82 752.7 269.2C754.58 268.58 755.77 268.23 757.8 268.5C759.83 268.77 762.35 270.08 764.9 270.8C767.45 271.52 770.37 272.8 773.1 272.8C775.83 272.8 778.57 271.2 781.3 270.8C784.03 270.4 787.1 269.92 789.5 270.4C791.9 270.88 793.3 271.18 795.7 273.7C798.1 276.22 801.17 281.3 803.9 285.5C806.63 289.7 809.72 295.82 812.1 298.9C814.48 301.98 816.33 302.98 818.2 304C820.07 305.02 821.25 305.35 823.3 305C825.35 304.65 827.93 303.43 830.5 301.9C833.07 300.37 835.63 297.67 838.7 295.8C841.77 293.93 845.83 292.58 848.9 290.7C851.97 288.82 854.37 286.72 857.1 284.5C859.83 282.28 862.57 279.35 865.3 277.4C868.03 275.45 870.08 274 873.5 272.8C876.92 271.6 881.7 270.87 885.8 270.2C889.9 269.53 894.68 269.08 898.1 268.8C901.52 268.52 903.23 268.37 906.3 268.5C909.37 268.63 913.77 268.98 916.5 269.6C919.23 270.22 920.3 270.23 922.7 272.2C925.1 274.17 928.17 277.13 930.9 281.4C933.63 285.67 936.37 292.33 939.1 297.8C941.83 303.27 944.58 309.82 947.3 314.2C950.02 318.58 952.33 321.7 955.4 324.1C958.47 326.5 962.93 327.57 965.7 328.6C968.47 329.63 969.88 329.92 972 330.3C974.12 330.68 975.97 331.25 978.4 330.9C980.83 330.55 983.52 329.92 986.6 328.2C989.68 326.48 993.48 323.57 996.9 320.6C1000.32 317.63 1003.68 313.07 1007.1 310.4C1010.52 307.73 1013.65 306.32 1017.4 304.6C1021.15 302.88 1025.52 301.7 1029.6 300.1C1033.68 298.5 1038.13 296.77 1041.9 295C1045.67 293.23 1048.78 291.13 1052.2 289.5C1055.62 287.87 1059.33 286.17 1062.4 285.2C1065.47 284.23 1067.87 283.83 1070.6 283.7C1073.33 283.57 1076.07 284.22 1078.8 284.4C1081.53 284.58 1084.43 285.42 1087 284.8C1089.57 284.18 1091.82 283.1 1094.2 280.7C1096.58 278.3 1098.75 273.98 1101.3 270.4C1103.85 266.82 1106.93 261.87 1109.5 259.2C1112.07 256.53 1114.3 255.3 1116.7 254.4C1119.1 253.5 1121.17 253.97 1123.9 253.8C1126.63 253.63 1130.37 254.38 1133.1 253.4C1135.83 252.42 1137.75 250.87 1140.3 247.9C1142.85 244.93 1146.02 238.67 1148.4 235.6C1150.78 232.53 1152.88 230.7 1154.6 229.5C1156.32 228.3 1157 228.13 1158.7 228.4C1160.4 228.67 1162.75 229.22 1164.8 231.1C1166.85 232.98 1168.95 236.22 1171 239.7C1173.05 243.18 1175.05 248.25 1177.1 252C1179.15 255.75 1180.9 259.03 1183.3 262.2C1185.7 265.37 1188.77 268.6 1191.5 271C1194.23 273.4 1196.98 274.82 1199.7 276.6C1202.42 278.38 1205.08 279.15 1207.8 281.7C1210.52 284.25 1213.27 288.32 1216 291.9C1218.73 295.48 1221.47 298.75 1224.2 303.2C1226.93 307.65 1229.67 313.48 1232.4 318.6C1235.13 323.72 1238.2 329.82 1240.6 333.9C1243 337.98 1244.92 340.7 1246.8 343.1C1248.68 345.5 1250.37 347.2 1251.9 348.3C1253.43 349.4 1254.63 349.7 1256 349.7C1257.37 349.7 1258.83 349.15 1260.1 348.3C1261.37 347.45 1263.02 345.22 1263.6 344.6"/>
<polyline stroke="#0000ff" stroke-width="4.1" stroke-linecap="round" points="332.3,312.83 333.65,312.22 335,312.68 336.35,312.39 337.7,312.63 339.05,312.71 340.4,312.59 341.75,312.46 343.1,312.31 344.45,312.19 345.8,312.36 347.15,312.61 348.5,312.18 349.85,315.22 351.2,312.5 352.55,312.34 353.9,312.74 355.25,312.75 356.6,312.6 357.95,312.35 359.3,312.53 360.65,312.77 362,312.68 363.35,312.08 364.7,314 366.05,312.89 367.4,312.36 368.75,312.09 370.1,312.34 371.45,312.53 372.8,312.47 374.15,312.47 375.5,311.84 376.85,312.35 378.2,312.34 379.55,312.49 380.9,312.75 382.25,312.33 383.6,312.74 384.95,312.8 386.3,312.72 387.65,312.38 389,312.79 390.35,312.4 391.7,312.45 393.05,312.16 394.4,312.28 395.75,312.3 397.1,312.8 398.45,312.57 399.8,312.56 401.15,312.42 402.5,312.41 403.85,312.29 405.2,312.43 406.55,312.82 407.9,312.47 409.25,312.97 410.6,312.65 411.95,312.46 413.3,312.82 414.65,312.01 416,312.43 417.35,312.44 418.7,312.88 420.05,312.66 421.4,312.62 422.75,312.78 424.1,312.47 425.45,312.13 426.8,312.41 428.15,312.79 429.5,312.94 430.85,312.31 432.2,312.72 433.55,312.74 434.9,312.32 436.25,312.25 437.6,313.02 438.95,312.73 440.3,312.57 441.65,312.77 443,312.29 444.35,311.51 445.7,312.64 447.05,312.6 448.4,312.92 449.75,312.68 451.1,312.69 452.45,312.53 453.8,312.4 455.15,312.5 456.5,312.8 457.85,311.99 459.2,312.13 460.55,312.18 461.9,312.4 463.25,313.27 464.6,312.29 465.95,311.63 467.3,311.82 468.65,312.16 470,311.42 471.35,311.96 472.7,312.14 474.05,311.95 475.4,312.46 476.75,311.51 478.1,311.52 479.45,311.82 480.8,311.62 482.15,311.88 483.5,311.54 484.85,312.03 486.2,311.35 487.55,311.62 488.9,311.47 490.25,311.09 491.6,311.28 492.95,310.9 494.3,311.25 495.65,310.94 497,311.26 498.35,311.23 499.7,311.03 501.05,310.45 502.4,310.62 503.75,310.76 505.1,311.37 506.45,310.69 507.8,310.79 509.15,310.36 510.5,309.15 511.85,310.12 513.2,310.63 514.55,310.53 515.9,310.18 517.25,310.23 518.6,310.48 519.95,310.07 521.3,310.26 522.65,310.24 524,310.07 525.35,310.16 526.7,310.2 528.05,309.83 529.4,309.52 530.75,309.83 532.1,309.5 533.45,309.43 534.8,309.94 536.15,309.53 537.5,309.62 538.85,309.73 540.2,309.47 541.55,309.78 542.9,309.58 544.25,309.4 545.6,309.55 546.95,308.92 548.3,309.26 549.65,309.79 551,309.34 552.35,309.21 553.7,309.37 555.05,309.15 556.4,309.5 557.75,309.09 559.1,308.93 560.45,308.96 561.8,308.39 563.15,309.03 564.5,309 565.85,308.41 567.2,308.17 568.55,310.61 569.9,308.73 571.25,310.64 572.6,308.39 573.95,308.36 575.3,308.48 576.65,308.73 578,308.18 579.35,308.25 580.7,308.13 582.05,308.45 583.4,308.54 584.75,308.62 586.1,308.48 587.45,308.26 588.8,307.89 590.15,308.08 591.5,308.2 592.85,308.05 594.2,307.63 595.55,307.72 596.9,307.63 598.25,309.01 599.6,307.7 600.95,307.49 602.3,307.69 603.65,307.58 605,307.3 606.35,307.64 607.7,307.37 609.05,307.27 610.4,307.03 611.75,307.23 613.1,307.27 614.45,306.6 615.8,306.83 617.15,306.77 618.5,306.8 619.85,306.25 621.2,306.83 622.55,306.17 623.9,305.88 625.25,305.89 626.6,305.97 627.95,305.62 629.3,305.31 630.65,305.37 632,306.6 633.35,305.05 634.7,304.65 636.05,304.79 637.4,305.48 638.75,304.37 640.1,304.32 641.45,303.77 642.8,304.21 644.15,304.24 645.5,304.04 646.85,304.06 648.2,303.84 649.55,304.22 650.9,304 652.25,303.69 653.6,303.85 654.95,303.96 656.3,303.91 657.65,304.39 659,303.77 660.35,303.79 661.7,303.57 663.05,303.89 664.4,303.56 665.75,303.86 667.1,304.51 668.45,303.55 669.8,303.55 671.15,304.19 672.5,303.47 673.85,303.96 675.2,303.73 676.55,303.44 677.9,303.65 679.25,304.12 680.6,303.79 681.95,303.96 683.3,304.15 684.65,303.57 686,303.56 687.35,303.54 688.7,303.69 690.05,303.5 691.4,304.07 692.75,303.65 694.1,303.62 695.45,302.98 696.8,303.7 698.15,303.43 699.5,304.19 700.85,303.79 702.2,303.56 703.55,303.76 704.9,304.07 706.25,303.71 707.6,303.65 708.95,303.2 710.3,303.44 711.65,303.33 713,303.7 714.35,303.68 715.7,303.2 717.05,303.49 718.4,303.52 719.75,303.6 721.1,304.65 722.45,303.6 723.8,303.26 725.15,303.2 726.5,302.65 727.85,303.26 729.2,302.72 730.55,302.73 731.9,302.73 733.25,302.44 734.6,302.52 735.95,302.71 737.3,302.73 738.65,302.77 740,302.46 741.35,302.06 742.7,302.2 744.05,301.78 745.4,301.38 746.75,301.96 748.1,301.66 749.45,301.58 750.8,301.36 752.15,301.95 753.5,301.46 754.85,303.84 756.2,301.31 757.55,301.26 758.9,301.16 760.25,301.38 761.6,300.53 762.95,300.81 764.3,300.64 765.65,300.79 767,300.48 768.35,299.42 769.7,300.29 771.05,300.13 772.4,300.34 773.75,300.39 775.1,300.14 776.45,299.66 777.8,299.71 779.15,299.97 780.5,299.62 781.85,299.8 783.2,299.54 784.55,299.78 785.9,299.13 787.25,299.31 788.6,299.37 789.95,299.2 791.3,298.7 792.65,298.72 794,298.72 795.35,298.47 796.7,298.53 798.05,298.43 799.4,298.38 800.75,298.28 802.1,298.11 803.45,298.38 804.8,298.38 806.15,298.1 807.5,298.42 808.85,298.39 810.2,298.01 811.55,298.48 812.9,298.41 814.25,298.25 815.6,297.96 816.95,298.1 818.3,297.89 819.65,298.16 821,297.91 822.35,297.7 823.7,297.68 825.05,297.79 826.4,297.69 827.75,298 829.1,297.21 830.45,297.89 831.8,297.76 833.15,297.76 834.5,297.68 835.85,297.6 837.2,297.87 838.55,297.57 839.9,297.77 841.25,297.36 842.6,297.25 843.95,297.54 845.3,298.04 846.65,297.36 848,297.11 849.35,297.57 850.7,297.19 852.05,297.04 853.4,296.79 854.75,297.17 856.1,296.84 857.45,296.69 858.8,296.75 860.15,297.01 861.5,296.89 862.85,296.39 864.2,296.13 865.55,296.88 866.9,296.49 868.25,296.88 869.6,296.44 870.95,296.41 872.3,296.23 873.65,296.18 875,296.17 876.35,296.07 877.7,296.36 879.05,295.9 880.4,295.8 881.75,296.09 883.1,297.07 884.45,295.64 885.8,295.66 887.15,295.24 888.5,295.62 889.85,295.44 891.2,295.6 892.55,295.41 893.9,295.01 895.25,294.9 896.6,294.98 897.95,295.04 899.3,295.01 900.65,294.93 902,295.06 903.35,294.59 904.7,294.68 906.05,295.5 907.4,294.66 908.75,294.58 910.1,294.66 911.45,294.12 912.8,294.4 914.15,294.21 915.5,293.98 916.85,294.11 918.2,294.3 919.55,293.95 920.9,293.76 922.25,294.07 923.6,293.75 924.95,293.98 926.3,293.74 927.65,293.39 929,293.13 930.35,293.11 931.7,295.2 933.05,292.72 934.4,293.46 935.75,292.25 937.1,292.84 938.45,292.89 939.8,292.35 941.15,291.96 942.5,292.01 943.85,292.17 945.2,292.38 946.55,292.08 947.9,292.15 949.25,292.12 950.6,292.56 951.95,292.17 953.3,292.3 954.65,292.46 956,294.73 957.35,291.79 958.7,292.06 960.05,292.48 961.4,292.47 962.75,292.72 964.1,292.98 965.45,293.02 966.8,294.98 968.15,292.82 969.5,293 970.85,292.93 972.2,293.6 973.55,293.48 974.9,293.22 976.25,293.46 977.6,293.24 978.95,293.4 980.3,293.49 981.65,293.23 983,293.25 984.35,293.45 985.7,293.76 987.05,293.46 988.4,293.61 989.75,293.92 991.1,294.19 992.45,294.02 993.8,294.02 995.15,293.66 996.5,293.84 997.85,293.99 999.2,293.93 1000.55,293.95 1001.9,294.18 1003.25,294.22 1004.6,293.77 1005.95,293.69 1007.3,293.49 1008.65,293.87 1010,293.98 1011.35,294.12 1012.7,293.64 1014.05,293.69 1015.4,293.59 1016.75,294.28 1018.1,294.14 1019.45,293.64 1020.8,293.79 1022.15,293.54 1023.5,293.61 1024.85,294.19 1026.2,293.61 1027.55,293.61 1028.9,293.64 1030.25,293.32 1031.6,293.24 1032.95,293.13 1034.3,293.82 1035.65,293.39 1037,293.42 1038.35,293.75 1039.7,293.27 1041.05,293.41 1042.4,293.31 1043.75,293.57 1045.1,293.41 1046.45,293.06 1047.8,293.67 1049.15,293.73 1050.5,293.49 1051.85,293.33 1053.2,293.32 1054.55,293.03 1055.9,293.17 1057.25,293.44 1058.6,293.21 1059.95,292.78 1061.3,292.76 1062.65,292.93 1064,293.23 1065.35,292.99 1066.7,292.84 1068.05,292.99 1069.4,292.57 1070.75,292.78 1072.1,292.57 1073.45,292.33 1074.8,292.67 1076.15,292.19 1077.5,292.43 1078.85,292.63 1080.2,292.05 1081.55,292.59 1082.9,292.56 1084.25,292.38 1085.6,292.09 1086.95,292.04 1088.3,291.99 1089.65,292 1091,291.73 1092.35,291.97 1093.7,291.78 1095.05,291.48 1096.4,292.12 1097.75,291.44 1099.1,291.45 1100.45,291.49 1101.8,291.53 1103.15,291.53 1104.5,291.76 1105.85,291.4 1107.2,291.45 1108.55,288.67 1109.9,291.07 1111.25,290.44 1112.6,290.47 1113.95,291.18 1115.3,290.5 1116.65,290.57 1118,290.51 1119.35,290.37 1120.7,289.78 1122.05,290.03 1123.4,290.41 1124.75,290.02 1126.1,289.58 1127.45,289.57 1128.8,291.5 1130.15,288.63 1131.5,289.27 1132.85,289.14 1134.2,288.86 1135.55,288.52 1136.9,288.93 1138.25,288.76 1139.6,288.73 1140.95,288.76 1142.3,288.35 1143.65,288.57 1145,288.15 1146.35,288.31 1147.7,288.13 1149.05,287.69 1150.4,288 1151.75,287.78 1153.1,287.58 1154.45,287.43 1155.8,287.3 1157.15,286.9 1158.5,286.58 1159.85,286.64 1161.2,286.63 1162.55,286.19 1163.9,286.18 1165.25,285.45 1166.6,285.97 1167.95,284.55 1169.3,285.11 1170.65,284.97 1172,284.83 1173.35,284.55 1174.7,284.41 1176.05,283.82 1177.4,284.03 1178.75,283.65 1180.1,283.22 1181.45,285.06 1182.8,283.05 1184.15,283.2 1185.5,282.55 1186.85,282.93 1188.2,282.68 1189.55,282.31 1190.9,282.63 1192.25,282.48 1193.6,282.51 1194.95,282.1 1196.3,281.61 1197.65,281.99 1199,282.05 1200.35,282.17 1201.7,282.17 1203.05,282.12 1204.4,281.9 1205.75,281.74 1207.1,281.54 1208.45,281.68 1209.8,281.4 1211.15,281.5 1212.5,281.29 1213.85,281.47 1215.2,281.16 1216.55,281.03 1217.9,280.99 1219.25,281.17 1220.6,280.86 1221.95,281.19 1223.3,280.62 1224.65,280.84 1226,280.64 1227.35,280.48 1228.7,280.78 1230.05,280.94 1231.4,281.03 1232.75,280.86 1234.1,280.73 1235.45,280.85 1236.8,282.1 1238.15,281.52 1239.5,280.33 1240.85,282.3 1242.2,281.73 1243.55,281.02 1244.9,281.69 1246.25,281.69 1247.6,281.59 1248.95,281.57 1250.3,281.1 1251.65,281.51 1253,281.52 1254.35,281.9 1255.7,281.93 1257.05,281.44 1258.4,281.31 1259.75,281.83 1261.1,282.6 1262.45,282.34 1263.8,282.47 1265.15,282.77 1266.5,282.7 1267.85,282.99 1269.2,282.87 1270.55,283.03 1271.9,283.48 1273.25,283.56 1274.6,283.83 1275.95,283.7 1277.3,283.87 1278.65,283.72 1280,283.67 1281.35,283.8 1282.7,283.55 1284.05,283.23 1285.4,283.27 1286.75,283.37 1288.1,283.63 1289.45,283.23 1290.8,283.27 1292.15,283.59 1293.5,283.6 1294.85,282.92 1296.2,282.27 1297.55,283.13 1298.9,283.16 1300.25,282.98 1301.6,282.74 1302.95,283.54"/>
<path stroke="#ff0000" stroke-width="4.4" stroke-linecap="round" d="M332 700.9L1303.8 709"/>
<path stroke="#c0c0c0" stroke-width="4.7" d="M1135.25 638.8H1297M1135.3 631.4V646.2M1296.9 631.4V646.2"/>
<path stroke="#bebebe" stroke-width="2.5" d="M211.85 427.3V585.7M204.8 427.3H218.9M204.8 585.7H218.9"/>
</g>
<circle cx="211.85" cy="506.5" r="4.1" fill="#000"/>
<g fill="none" stroke="#000">
<rect x="163.25" y="110.5" width="1296" height="792" stroke-width="2.6"/>
<path stroke-width="1.05" d="M163.25 902.5v11.8M163.25 110.5v-11.8M179.45 902.5v5.9M179.45 110.5v-5.9M195.65 902.5v5.9M195.65 110.5v-5.9M211.85 902.5v5.9M211.85 110.5v-5.9M228.05 902.5v5.9M228.05 110.5v-5.9M244.25 902.5v5.9M244.25 110.5v-5.9M260.45 902.5v5.9M260.45 110.5v-5.9M276.65 902.5v5.9M276.65 110.5v-5.9M292.85 902.5v5.9M292.85 110.5v-5.9M309.05 902.5v5.9M309.05 110.5v-5.9M325.25 902.5v11.8M325.25 110.5v-11.8M341.45 902.5v5.9M341.45 110.5v-5.9M357.65 902.5v5.9M357.65 110.5v-5.9M373.85 902.5v5.9M373.85 110.5v-5.9M390.05 902.5v5.9M390.05 110.5v-5.9M406.25 902.5v5.9M406.25 110.5v-5.9M422.45 902.5v5.9M422.45 110.5v-5.9M438.65 902.5v5.9M438.65 110.5v-5.9M454.85 902.5v5.9M454.85 110.5v-5.9M471.05 902.5v5.9M471.05 110.5v-5.9M487.25 902.5v11.8M487.25 110.5v-11.8M503.45 902.5v5.9M503.45 110.5v-5.9M519.65 902.5v5.9M519.65 110.5v-5.9M535.85 902.5v5.9M535.85 110.5v-5.9M552.05 902.5v5.9M552.05 110.5v-5.9M568.25 902.5v5.9M568.25 110.5v-5.9M584.45 902.5v5.9M584.45 110.5v-5.9M600.65 902.5v5.9M600.65 110.5v-5.9M616.85 902.5v5.9M616.85 110.5v-5.9M633.05 902.5v5.9M633.05 110.5v-5.9M649.25 902.5v11.8M649.25 110.5v-11.8M665.45 902.5v5.9M665.45 110.5v-5.9M681.65 902.5v5.9M681.65 110.5v-5.9M697.85 902.5v5.9M697.85 110.5v-5.9M714.05 902.5v5.9M714.05 110.5v-5.9M730.25 902.5v5.9M730.25 110.5v-5.9M746.45 902.5v5.9M746.45 110.5v-5.9M762.65 902.5v5.9M762.65 110.5v-5.9M778.85 902.5v5.9M778.85 110.5v-5.9M795.05 902.5v5.9M795.05 110.5v-5.9M811.25 902.5v11.8M811.25 110.5v-11.8M827.45 902.5v5.9M827.45 110.5v-5.9M843.65 902.5v5.9M843.65 110.5v-5.9M859.85 902.5v5.9M859.85 110.5v-5.9M876.05 902.5v5.9M876.05 110.5v-5.9M892.25 902.5v5.9M892.25 110.5v-5.9M908.45 902.5v5.9M908.45 110.5v-5.9M924.65 902.5v5.9M924.65 110.5v-5.9M940.85 902.5v5.9M940.85 110.5v-5.9M957.05 902.5v5.9M957.05 110.5v-5.9M973.25 902.5v11.8M973.25 110.5v-11.8M989.45 902.5v5.9M989.45 110.5v-5.9M1005.65 902.5v5.9M1005.65 110.5v-5.9M1021.85 902.5v5.9M1021.85 110.5v-5.9M1038.05 902.5v5.9M1038.05 110.5v-5.9M1054.25 902.5v5.9M1054.25 110.5v-5.9M1070.45 902.5v5.9M1070.45 110.5v-5.9M1086.65 902.5v5.9M1086.65 110.5v-5.9M1102.85 902.5v5.9M1102.85 110.5v-5.9M1119.05 902.5v5.9M1119.05 110.5v-5.9M1135.25 902.5v11.8M1135.25 110.5v-11.8M1151.45 902.5v5.9M1151.45 110.5v-5.9M1167.65 902.5v5.9M1167.65 110.5v-5.9M1183.85 902.5v5.9M1183.85 110.5v-5.9M1200.05 902.5v5.9M1200.05 110.5v-5.9M1216.25 902.5v5.9M1216.25 110.5v-5.9M1232.45 902.5v5.9M1232.45 110.5v-5.9M1248.65 902.5v5.9M1248.65 110.5v-5.9M1264.85 902.5v5.9M1264.85 110.5v-5.9M1281.05 902.5v5.9M1281.05 110.5v-5.9M1297.25 902.5v11.8M1297.25 110.5v-11.8M1313.45 902.5v5.9M1313.45 110.5v-5.9M1329.65 902.5v5.9M1329.65 110.5v-5.9M1345.85 902.5v5.9M1345.85 110.5v-5.9M1362.05 902.5v5.9M1362.05 110.5v-5.9M1378.25 902.5v5.9M1378.25 110.5v-5.9M1394.45 902.5v5.9M1394.45 110.5v-5.9M1410.65 902.5v5.9M1410.65 110.5v-5.9M1426.85 902.5v5.9M1426.85 110.5v-5.9M1443.05 902.5v5.9M1443.05 110.5v-5.9M1459.25 902.5v11.8M1459.25 110.5v-11.8M163.25 902.5h-11.8M163.25 862.9h-5.9M163.25 823.3h-11.8M163.25 783.7h-5.9M163.25 744.1h-11.8M163.25 704.5h-5.9M163.25 664.9h-11.8M163.25 625.3h-5.9M163.25 585.7h-11.8M163.25 546.1h-5.9M163.25 506.5h-11.8M163.25 466.9h-5.9M163.25 427.3h-11.8M163.25 387.7h-5.9M163.25 348.1h-11.8M163.25 308.5h-5.9M163.25 268.9h-11.8M163.25 229.3h-5.9M163.25 189.7h-11.8M163.25 150.1h-5.9M163.25 110.5h-11.8M1459.25 493.3h5.9M1459.25 480.1h5.9M1459.25 466.9h5.9M1459.25 453.7h5.9M1459.25 440.5h11.8M1459.25 427.3h5.9M1459.25 414.1h5.9M1459.25 400.9h5.9M1459.25 387.7h5.9M1459.25 374.5h11.8M1459.25 361.3h5.9M1459.25 348.1h5.9M1459.25 334.9h5.9M1459.25 321.7h5.9M1459.25 308.5h11.8M1459.25 295.3h5.9M1459.25 282.1h5.9M1459.25 268.9h5.9M1459.25 255.7h5.9M1459.25 242.5h11.8M1459.25 229.3h5.9M1459.25 216.1h5.9M1459.25 202.9h5.9M1459.25 189.7h5.9M1459.25 176.5h11.8M1459.25 163.3h5.9M1459.25 150.1h5.9M1459.25 136.9h5.9M1459.25 123.7h5.9M1459.25 902.5h11.8M1459.25 889.3h5.9M1459.25 876.1h5.9M1459.25 862.9h5.9M1459.25 849.7h5.9M1459.25 836.5h11.8M1459.25 823.3h5.9M1459.25 810.1h5.9M1459.25 796.9h5.9M1459.25 783.7h5.9M1459.25 770.5h11.8M1459.25 757.3h5.9M1459.25 744.1h5.9M1459.25 730.9h5.9M1459.25 717.7h5.9M1459.25 704.5h11.8M1459.25 691.3h5.9M1459.25 678.1h5.9M1459.25 664.9h5.9M1459.25 651.7h5.9M1459.25 638.5h11.8M1459.25 625.3h5.9M1459.25 612.1h5.9M1459.25 598.9h5.9M1459.25 585.7h5.9M1459.25 572.5h11.8M1459.25 559.3h5.9M1459.25 546.1h5.9M1459.25 532.9h5.9M1459.25 519.7h5.9"/>
</g>
<g fill="none" stroke="#009696">
<path stroke-width="0.7" d="M1329.3 110.5H1362.3M1329.3 506.5H1362.3M1345.9 150.4H1354.3M1345.9 190H1354.3M1345.9 229.6H1354.3M1345.9 269.2H1354.3M1345.9 348.4H1354.3M1345.9 388H1354.3M1345.9 427.6H1354.3M1345.9 467.2H1354.3"/>
</g>
<rect x="167" y="18.5" width="372.5" height="163" fill="#fff" stroke="#000" stroke-width="0.62"/>
<path stroke="#0000ff" stroke-width="0.55" d="M204 39.5H260"/>
<circle cx="232.4" cy="39.45" r="4.35" fill="#0000ff"/>
<path stroke="#00c8c8" stroke-width="0.55" d="M204 69.5H260"/>
<circle cx="232.4" cy="69.5" r="4.35" fill="#00c8c8"/>
<path stroke="#000" stroke-width="2.6" d="M204 100.1H260"/>
<path stroke="#bebebe" stroke-width="2.6" d="M204 130.4H260"/>
<path stroke="#ff0000" stroke-width="0.55" d="M204 161.5H260"/>
<circle cx="232.4" cy="161.4" r="4.35" fill="#ff0000"/>
<text class="lg" x="279.3" y="48.05">Pressure</text>
<text class="lg" x="279.3" y="78.15">dP/dt low<tspan dy=".09em">−</tspan><tspan dy="-.09em">p</tspan>assed</text>
<text class="lg" x="279.3" y="108.7">Residual</text>
<text class="lg" x="279.3" y="138.9">... last 10 min.</text>
<text class="lg" x="279.3" y="169.9">Theor.Tide</text>
<text class="ti" x="995.9" y="81.8" text-anchor="middle">SCG_054 gravimeter Onsala Space Observatory, Sweden</text>
<text class="an" transform="translate(163.25 946.3) scale(1 1.035)" text-anchor="middle"><tspan dy=".09em">−</tspan><tspan dy="-.09em">1</tspan>0</text>
<text class="an" transform="translate(325.25 946.3) scale(1 1.035)" text-anchor="middle">0</text>
<text class="an" transform="translate(487.25 946.3) scale(1 1.035)" text-anchor="middle">10</text>
<text class="an" transform="translate(649.25 946.3) scale(1 1.035)" text-anchor="middle">20</text>
<text class="an" transform="translate(811.25 946.3) scale(1 1.035)" text-anchor="middle">30</text>
<text class="an" transform="translate(973.25 946.3) scale(1 1.035)" text-anchor="middle">40</text>
<text class="an" transform="translate(1135.25 946.3) scale(1 1.035)" text-anchor="middle">50</text>
<text class="an" transform="translate(1297.25 946.3) scale(1 1.035)" text-anchor="middle">60</text>
<text class="an" transform="translate(1459.25 946.3) scale(1 1.035)" text-anchor="middle">70</text>
<text class="an" transform="translate(140 912.6) scale(1 1.035)" text-anchor="end"><tspan dy=".09em">−</tspan><tspan dy="-.09em">1</tspan>00</text>
<text class="an" transform="translate(140 833.4) scale(1 1.035)" text-anchor="end"><tspan dy=".09em">−</tspan><tspan dy="-.09em">8</tspan>0</text>
<text class="an" transform="translate(140 754.2) scale(1 1.035)" text-anchor="end"><tspan dy=".09em">−</tspan><tspan dy="-.09em">6</tspan>0</text>
<text class="an" transform="translate(140 675) scale(1 1.035)" text-anchor="end"><tspan dy=".09em">−</tspan><tspan dy="-.09em">4</tspan>0</text>
<text class="an" transform="translate(140 595.8) scale(1 1.035)" text-anchor="end"><tspan dy=".09em">−</tspan><tspan dy="-.09em">2</tspan>0</text>
<text class="an" transform="translate(140 516.6) scale(1 1.035)" text-anchor="end">0</text>
<text class="an" transform="translate(140 437.4) scale(1 1.035)" text-anchor="end">20</text>
<text class="an" transform="translate(140 358.2) scale(1 1.035)" text-anchor="end">40</text>
<text class="an" transform="translate(140 279) scale(1 1.035)" text-anchor="end">60</text>
<text class="an" transform="translate(140 199.8) scale(1 1.035)" text-anchor="end">80</text>
<text class="an" transform="translate(140 120.6) scale(1 1.035)" text-anchor="end">100</text>
<text class="an" transform="translate(1482.4 450.7) scale(1 1.035)" text-anchor="start">1027.0</text>
<text class="an" transform="translate(1482.4 384.7) scale(1 1.035)" text-anchor="start">1027.5</text>
<text class="an" transform="translate(1482.4 318.7) scale(1 1.035)" text-anchor="start">1028.0</text>
<text class="an" transform="translate(1482.4 252.7) scale(1 1.035)" text-anchor="start">1028.5</text>
<text class="an" transform="translate(1482.4 186.7) scale(1 1.035)" text-anchor="start">1029.0</text>
<text class="an" transform="translate(1560.6 913.8) scale(1 1.035)" text-anchor="end"><tspan dy=".09em">−</tspan><tspan dy="-.09em">1</tspan>500</text>
<text class="an" transform="translate(1560.6 847.8) scale(1 1.035)" text-anchor="end"><tspan dy=".09em">−</tspan><tspan dy="-.09em">1</tspan>000</text>
<text class="an" transform="translate(1560.6 781.8) scale(1 1.035)" text-anchor="end"><tspan dy=".09em">−</tspan><tspan dy="-.09em">5</tspan>00</text>
<text class="an" transform="translate(1560.6 714.4) scale(1 1.035)" text-anchor="end">0</text>
<text class="an" transform="translate(1560.6 648.4) scale(1 1.035)" text-anchor="end">500</text>
<text class="an" transform="translate(1560.6 582.4) scale(1 1.035)" text-anchor="end">1000</text>
<text class="lb" x="811.25" y="1000" text-anchor="middle">Time [min] from 2023<tspan dy=".09em">−</tspan><tspan dy="-.09em">0</tspan>5<tspan dy=".09em">−</tspan><tspan dy="-.09em">1</tspan>8 20:00:00 UTC</text>
<text class="lb" transform="translate(49 506.5) rotate(-90)" text-anchor="middle">Obs’d Gravity [nm/s<tspan font-size="24" dy="-13">2</tspan><tspan dy="13">]</tspan></text>
<text class="lb" transform="translate(1622 308.5) rotate(-90)" text-anchor="middle">Pressure [hPa]</text>
<text class="lb" transform="translate(1615.3 704.5) rotate(-90)" text-anchor="middle">Tide [nm/s<tspan font-size="24" dy="-13">2</tspan><tspan dy="13">]</tspan></text>
<text class="lg" transform="translate(244 506.5) rotate(-90)" text-anchor="middle">Typical noise level</text>
<text class="lg" transform="translate(1387.8 308.5) rotate(-90)" text-anchor="middle">1 DIV = 0.5 hPa/h</text>
<text class="lg" transform="translate(1428 308.5) rotate(-90)" text-anchor="middle">average = 0.2393</text>
<text class="bd" x="192.6" y="888">The latest 1<tspan dy=".09em">−</tspan><tspan dy="-.09em">h</tspan>our, 1<tspan dy=".09em">−</tspan><tspan dy="-.09em">s</tspan>econd sampling</text>
<text class="bd" x="1431" y="888" text-anchor="end">End at 2023<tspan dy=".09em">−</tspan><tspan dy="-.09em">0</tspan>5<tspan dy=".09em">−</tspan><tspan dy="-.09em">1</tspan>8 20:59:59 UTC</text>
</svg></body></html>
